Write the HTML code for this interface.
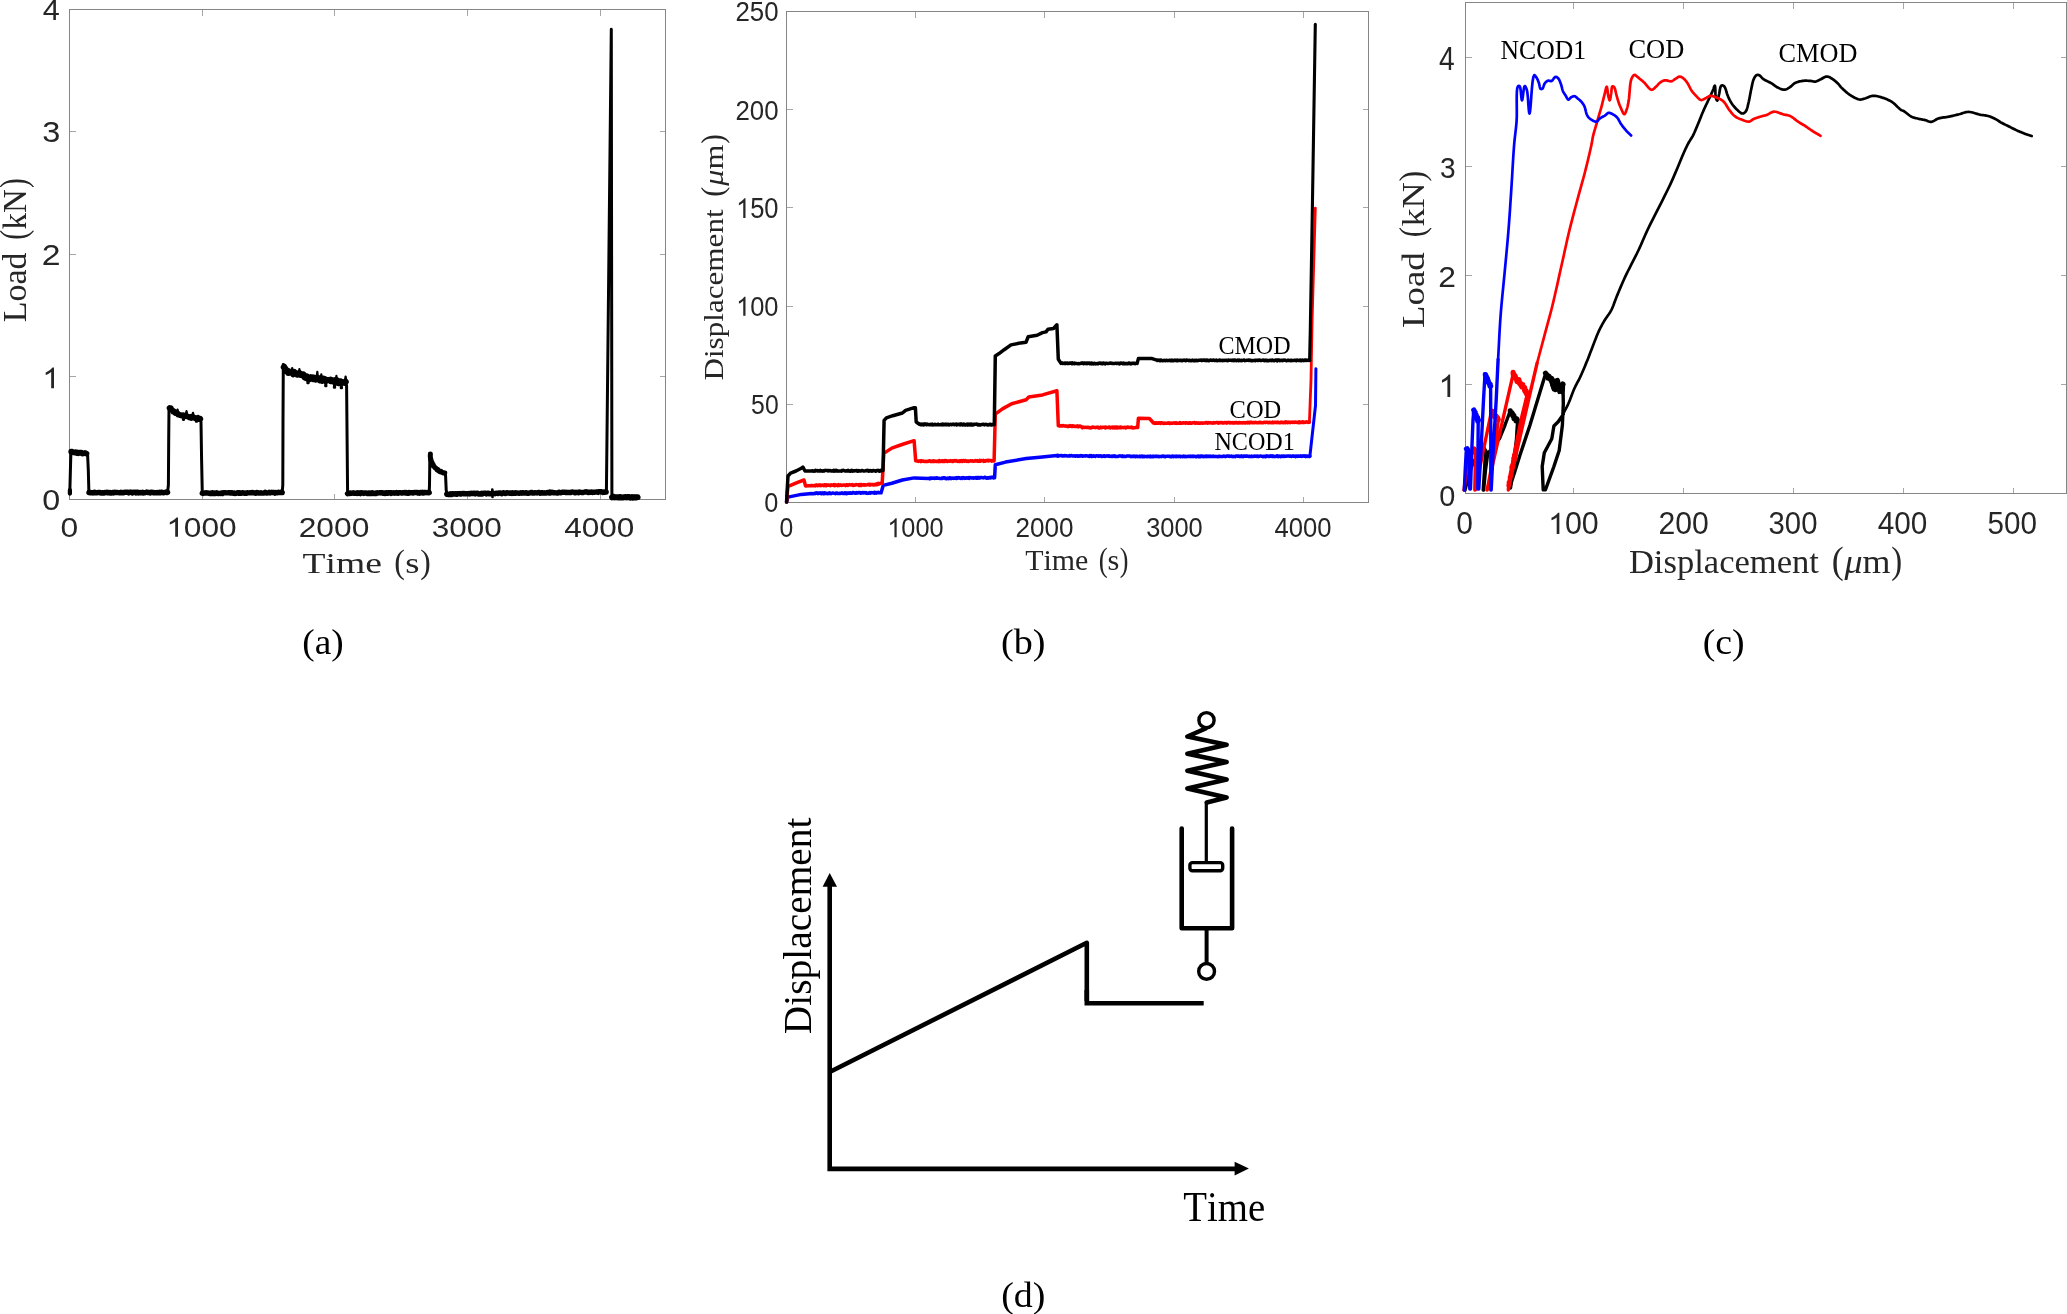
<!DOCTYPE html>
<html><head><meta charset="utf-8"><style>
html,body{margin:0;padding:0;background:#fff;overflow:hidden}
svg{display:block;will-change:transform}
text{font-kerning:none;white-space:pre}
</style></head><body>
<svg width="2067" height="1314" viewBox="0 0 2067 1314">
<rect width="2067" height="1314" fill="#fff"/>
<g stroke="#a6a6a6" stroke-width="1" fill="none" shape-rendering="crispEdges">
<path d="M202.0 499.5V493.5M202.0 9.5V15.5"/>
<path d="M334.7 499.5V493.5M334.7 9.5V15.5"/>
<path d="M467.4 499.5V493.5M467.4 9.5V15.5"/>
<path d="M600.0 499.5V493.5M600.0 9.5V15.5"/>
<path d="M69.5 376.6H75.5M665.5 376.6H659.5"/>
<path d="M69.5 254.0H75.5M665.5 254.0H659.5"/>
<path d="M69.5 131.4H75.5M665.5 131.4H659.5"/>
</g>
<rect x="69.5" y="9.5" width="596.0" height="490.0" stroke="#858585" stroke-width="1" fill="none" shape-rendering="crispEdges"/>
<g transform="translate(60.56,536.73) scale(0.015526,0.013655)" fill="#262626">
<text x="0" y="0" font-size="2048" font-family='"Liberation Sans", sans-serif'>0</text>
</g>
<g transform="translate(166.20,536.73) scale(0.015461,0.013655)" fill="#262626">
<path transform="translate(0,0) scale(1,-0.9611)" d="M763 0L583 0L583 1147Q518 1085 421 1028Q324 971 233 937L233 1111Q388 1184 506.5 1289.5Q625 1395 669 1466L763 1466Z"/>
<text x="1139" y="0" font-size="2048" font-family='"Liberation Sans", sans-serif'>000</text>
</g>
<g transform="translate(298.70,536.73) scale(0.015504,0.013655)" fill="#262626">
<text x="0" y="0" font-size="2048" font-family='"Liberation Sans", sans-serif'>2000</text>
</g>
<g transform="translate(431.70,536.73) scale(0.015393,0.013655)" fill="#262626">
<text x="0" y="0" font-size="2048" font-family='"Liberation Sans", sans-serif'>3000</text>
</g>
<g transform="translate(564.18,536.73) scale(0.015421,0.013655)" fill="#262626">
<text x="0" y="0" font-size="2048" font-family='"Liberation Sans", sans-serif'>4000</text>
</g>
<g transform="translate(42.14,509.87) scale(0.015730,0.014000)" fill="#262626">
<text x="0" y="0" font-size="2048" font-family='"Liberation Sans", sans-serif'>0</text>
</g>
<g transform="translate(42.05,388.20) scale(0.015660,0.014620)" fill="#262626">
<path transform="translate(0,0) scale(1,-0.9611)" d="M763 0L583 0L583 1147Q518 1085 421 1028Q324 971 233 937L233 1111Q388 1184 506.5 1289.5Q625 1395 669 1466L763 1466Z"/>
</g>
<g transform="translate(41.70,264.95) scale(0.016506,0.014196)" fill="#262626">
<text x="0" y="0" font-size="2048" font-family='"Liberation Sans", sans-serif'>2</text>
</g>
<g transform="translate(42.16,142.07) scale(0.015860,0.014000)" fill="#262626">
<text x="0" y="0" font-size="2048" font-family='"Liberation Sans", sans-serif'>3</text>
</g>
<g transform="translate(42.70,19.75) scale(0.014922,0.014407)" fill="#262626">
<text x="0" y="0" font-size="2048" font-family='"Liberation Sans", sans-serif'>4</text>
</g>
<text transform="translate(302.52,572.55) scale(1.2510,1.0000)" font-size="30.07" font-family='"Liberation Serif", serif' fill="#262626">Time</text>
<text transform="translate(394.30,573.02) scale(1.0618,1.1370)" font-size="30.07" font-family='"Liberation Serif", serif' fill="#262626">(</text>
<text transform="translate(405.30,572.55) scale(1.2151,1.0000)" font-size="30.07" font-family='"Liberation Serif", serif' fill="#262626">s</text>
<text transform="translate(420.18,573.02) scale(1.0488,1.1370)" font-size="30.07" font-family='"Liberation Serif", serif' fill="#262626">)</text>
<text transform="translate(25.90,322.18) rotate(-90) scale(1.0165,1.0000)" font-size="33.37" font-family='"Liberation Serif", serif' fill="#262626">Load</text>
<text transform="translate(26.49,239.80) rotate(-90) scale(0.8868,1.1270)" font-size="33.37" font-family='"Liberation Serif", serif' fill="#262626">(</text>
<text transform="translate(25.90,229.42) rotate(-90) scale(0.9827,1.0000)" font-size="33.37" font-family='"Liberation Serif", serif' fill="#262626">kN</text>
<text transform="translate(26.49,187.95) rotate(-90) scale(0.8868,1.1270)" font-size="33.37" font-family='"Liberation Serif", serif' fill="#262626">)</text>
<g stroke="#a6a6a6" stroke-width="1" fill="none" shape-rendering="crispEdges">
<path d="M915.7 502.5V496.5M915.7 11.5V17.5"/>
<path d="M1044.9 502.5V496.5M1044.9 11.5V17.5"/>
<path d="M1174.1 502.5V496.5M1174.1 11.5V17.5"/>
<path d="M1303.3 502.5V496.5M1303.3 11.5V17.5"/>
<path d="M786.5 404.2H792.5M1368.5 404.2H1362.5"/>
<path d="M786.5 306.1H792.5M1368.5 306.1H1362.5"/>
<path d="M786.5 207.9H792.5M1368.5 207.9H1362.5"/>
<path d="M786.5 109.8H792.5M1368.5 109.8H1362.5"/>
</g>
<rect x="786.5" y="11.5" width="582.0" height="491.0" stroke="#858585" stroke-width="1" fill="none" shape-rendering="crispEdges"/>
<g transform="translate(779.54,537.23) scale(0.012053,0.013517)" fill="#262626">
<text x="0" y="0" font-size="2048" font-family='"Liberation Sans", sans-serif'>0</text>
</g>
<g transform="translate(887.22,537.23) scale(0.012373,0.013517)" fill="#262626">
<path transform="translate(0,0) scale(1,-0.9611)" d="M763 0L583 0L583 1147Q518 1085 421 1028Q324 971 233 937L233 1111Q388 1184 506.5 1289.5Q625 1395 669 1466L763 1466Z"/>
<text x="1139" y="0" font-size="2048" font-family='"Liberation Sans", sans-serif'>000</text>
</g>
<g transform="translate(1015.59,537.23) scale(0.012737,0.013517)" fill="#262626">
<text x="0" y="0" font-size="2048" font-family='"Liberation Sans", sans-serif'>2000</text>
</g>
<g transform="translate(1146.13,537.23) scale(0.012415,0.013517)" fill="#262626">
<text x="0" y="0" font-size="2048" font-family='"Liberation Sans", sans-serif'>3000</text>
</g>
<g transform="translate(1274.61,537.23) scale(0.012508,0.013517)" fill="#262626">
<text x="0" y="0" font-size="2048" font-family='"Liberation Sans", sans-serif'>4000</text>
</g>
<g transform="translate(735.50,21.43) scale(0.012616,0.013517)" fill="#262626">
<text x="0" y="0" font-size="2048" font-family='"Liberation Sans", sans-serif'>250</text>
</g>
<g transform="translate(735.50,120.13) scale(0.012616,0.013724)" fill="#262626">
<text x="0" y="0" font-size="2048" font-family='"Liberation Sans", sans-serif'>200</text>
</g>
<g transform="translate(736.00,217.92) scale(0.012436,0.014000)" fill="#262626">
<path transform="translate(0,0) scale(1,-0.9611)" d="M763 0L583 0L583 1147Q518 1085 421 1028Q324 971 233 937L233 1111Q388 1184 506.5 1289.5Q625 1395 669 1466L763 1466Z"/>
<text x="1139" y="0" font-size="2048" font-family='"Liberation Sans", sans-serif'>50</text>
</g>
<g transform="translate(736.00,315.73) scale(0.012436,0.013517)" fill="#262626">
<path transform="translate(0,0) scale(1,-0.9611)" d="M763 0L583 0L583 1147Q518 1085 421 1028Q324 971 233 937L233 1111Q388 1184 506.5 1289.5Q625 1395 669 1466L763 1466Z"/>
<text x="1139" y="0" font-size="2048" font-family='"Liberation Sans", sans-serif'>00</text>
</g>
<g transform="translate(751.11,413.63) scale(0.012098,0.013655)" fill="#262626">
<text x="0" y="0" font-size="2048" font-family='"Liberation Sans", sans-serif'>50</text>
</g>
<g transform="translate(764.31,512.33) scale(0.012360,0.013517)" fill="#262626">
<text x="0" y="0" font-size="2048" font-family='"Liberation Sans", sans-serif'>0</text>
</g>
<text transform="translate(1025.16,570.10) scale(1.0254,1.0000)" font-size="29.20" font-family='"Liberation Serif", serif' fill="#262626">Time</text>
<text transform="translate(1098.72,570.53) scale(0.9201,1.1370)" font-size="29.20" font-family='"Liberation Serif", serif' fill="#262626">(</text>
<text transform="translate(1107.55,570.10) scale(1.0428,1.0000)" font-size="29.20" font-family='"Liberation Serif", serif' fill="#262626">s</text>
<text transform="translate(1119.66,570.53) scale(0.8935,1.1370)" font-size="29.20" font-family='"Liberation Serif", serif' fill="#262626">)</text>
<text transform="translate(723.00,380.50) rotate(-90) scale(1.1504,1.0000)" font-size="27.06" font-family='"Liberation Serif", serif' fill="#262626">Displacement</text>
<text transform="translate(723.45,196.73) rotate(-90) scale(1.1222,1.1370)" font-size="27.06" font-family='"Liberation Serif", serif' fill="#262626">(</text>
<text transform="translate(723.00,185.77) rotate(-90) scale(1.1887,1.0000)" font-size="27.06" font-family='"Liberation Serif", serif' fill="#262626"><tspan font-style="italic">μ</tspan><tspan>m</tspan></text>
<text transform="translate(723.45,143.72) rotate(-90) scale(1.0502,1.1370)" font-size="27.06" font-family='"Liberation Serif", serif' fill="#262626">)</text>
<text transform="translate(1218.41,353.96) scale(0.9791,1)" font-size="24.56" font-family='"Liberation Serif", serif' fill="#000">CMOD</text>
<text transform="translate(1229.60,418.16) scale(1.0029,1)" font-size="24.41" font-family='"Liberation Serif", serif' fill="#000">COD</text>
<text transform="translate(1214.40,450.15) scale(0.9606,1)" font-size="25.15" font-family='"Liberation Serif", serif' fill="#000">NCOD1</text>
<g stroke="#a6a6a6" stroke-width="1" fill="none" shape-rendering="crispEdges">
<path d="M1573.5 493.5V487.5M1573.5 2.5V8.5"/>
<path d="M1683.4 493.5V487.5M1683.4 2.5V8.5"/>
<path d="M1793.3 493.5V487.5M1793.3 2.5V8.5"/>
<path d="M1903.3 493.5V487.5M1903.3 2.5V8.5"/>
<path d="M2013.2 493.5V487.5M2013.2 2.5V8.5"/>
<path d="M1465.5 384.4H1471.5M2066.5 384.4H2060.5"/>
<path d="M1465.5 275.4H1471.5M2066.5 275.4H2060.5"/>
<path d="M1465.5 166.4H1471.5M2066.5 166.4H2060.5"/>
<path d="M1465.5 57.4H1471.5M2066.5 57.4H2060.5"/>
</g>
<rect x="1465.5" y="2.5" width="601.0" height="491.0" stroke="#858585" stroke-width="1" fill="none" shape-rendering="crispEdges"/>
<g transform="translate(1456.23,534.10) scale(0.014607,0.015241)" fill="#262626">
<text x="0" y="0" font-size="2048" font-family='"Liberation Sans", sans-serif'>0</text>
</g>
<g transform="translate(1548.05,534.10) scale(0.014820,0.015241)" fill="#262626">
<path transform="translate(0,0) scale(1,-0.9611)" d="M763 0L583 0L583 1147Q518 1085 421 1028Q324 971 233 937L233 1111Q388 1184 506.5 1289.5Q625 1395 669 1466L763 1466Z"/>
<text x="1139" y="0" font-size="2048" font-family='"Liberation Sans", sans-serif'>00</text>
</g>
<g transform="translate(1658.58,534.10) scale(0.014719,0.015241)" fill="#262626">
<text x="0" y="0" font-size="2048" font-family='"Liberation Sans", sans-serif'>200</text>
</g>
<g transform="translate(1768.58,534.10) scale(0.014299,0.015241)" fill="#262626">
<text x="0" y="0" font-size="2048" font-family='"Liberation Sans", sans-serif'>300</text>
</g>
<g transform="translate(1877.72,534.10) scale(0.014529,0.015241)" fill="#262626">
<text x="0" y="0" font-size="2048" font-family='"Liberation Sans", sans-serif'>400</text>
</g>
<g transform="translate(1987.51,534.10) scale(0.014470,0.015241)" fill="#262626">
<text x="0" y="0" font-size="2048" font-family='"Liberation Sans", sans-serif'>500</text>
</g>
<g transform="translate(1439.37,505.80) scale(0.014096,0.014759)" fill="#262626">
<text x="0" y="0" font-size="2048" font-family='"Liberation Sans", sans-serif'>0</text>
</g>
<g transform="translate(1438.40,397.00) scale(0.015472,0.015898)" fill="#262626">
<path transform="translate(0,0) scale(1,-0.9611)" d="M763 0L583 0L583 1147Q518 1085 421 1028Q324 971 233 937L233 1111Q388 1184 506.5 1289.5Q625 1395 669 1466L763 1466Z"/>
</g>
<g transform="translate(1438.20,287.40) scale(0.015541,0.014545)" fill="#262626">
<text x="0" y="0" font-size="2048" font-family='"Liberation Sans", sans-serif'>2</text>
</g>
<g transform="translate(1439.93,177.71) scale(0.013697,0.014621)" fill="#262626">
<text x="0" y="0" font-size="2048" font-family='"Liberation Sans", sans-serif'>3</text>
</g>
<g transform="translate(1439.05,69.60) scale(0.013760,0.016182)" fill="#262626">
<text x="0" y="0" font-size="2048" font-family='"Liberation Sans", sans-serif'>4</text>
</g>
<text transform="translate(1628.90,572.80) scale(1.0155,1.0000)" font-size="34.05" font-family='"Liberation Serif", serif' fill="#262626">Displacement</text>
<text transform="translate(1831.63,573.36) scale(1.0521,1.1370)" font-size="34.05" font-family='"Liberation Serif", serif' fill="#262626">(</text>
<text transform="translate(1844.54,572.80) scale(1.0563,1.0000)" font-size="34.05" font-family='"Liberation Serif", serif' fill="#262626"><tspan font-style="italic">μ</tspan><tspan>m</tspan></text>
<text transform="translate(1891.15,573.36) scale(0.9606,1.1370)" font-size="34.05" font-family='"Liberation Serif", serif' fill="#262626">)</text>
<text transform="translate(1424.00,327.96) rotate(-90) scale(1.1546,1.0000)" font-size="31.91" font-family='"Liberation Serif", serif' fill="#262626">Load</text>
<text transform="translate(1424.48,237.25) rotate(-90) scale(0.9638,1.1370)" font-size="31.91" font-family='"Liberation Serif", serif' fill="#262626">(</text>
<text transform="translate(1424.00,226.59) rotate(-90) scale(1.1391,1.0000)" font-size="31.91" font-family='"Liberation Serif", serif' fill="#262626">kN</text>
<text transform="translate(1424.48,181.53) rotate(-90) scale(1.0004,1.1370)" font-size="31.91" font-family='"Liberation Serif", serif' fill="#262626">)</text>
<text transform="translate(1500.56,58.53) scale(0.9426,1)" font-size="27.24" font-family='"Liberation Serif", serif' fill="#000">NCOD1</text>
<text transform="translate(1628.42,58.33) scale(0.9711,1)" font-size="27.24" font-family='"Liberation Serif", serif' fill="#000">COD</text>
<text transform="translate(1778.62,62.13) scale(0.9633,1)" font-size="27.24" font-family='"Liberation Serif", serif' fill="#000">CMOD</text>
<text transform="translate(302.36,654.24) scale(1.0498,1)" font-size="35.51" font-family='"Liberation Serif", serif' fill="#000">(a)</text>
<text transform="translate(1001.12,654.24) scale(1.0735,1)" font-size="35.51" font-family='"Liberation Serif", serif' fill="#000">(b)</text>
<text transform="translate(1702.74,654.24) scale(1.0636,1)" font-size="35.51" font-family='"Liberation Serif", serif' fill="#000">(c)</text>
<text transform="translate(1001.23,1306.54) scale(1.0683,1)" font-size="35.51" font-family='"Liberation Serif", serif' fill="#000">(d)</text>
<text transform="translate(811.18,1034.24) rotate(-90) scale(0.9848,1)" font-size="40.03" font-family='"Liberation Serif", serif' fill="#000">Displacement</text>
<text transform="translate(1183.20,1220.99) scale(0.9285,1)" font-size="41.82" font-family='"Liberation Serif", serif' fill="#000">Time</text>
<path d="M69.90 494.00 L69.90 489.00 L70.40 470.00 L70.90 452.00 L71.25 451.65 L72.27 451.72 L73.16 452.17 L73.94 452.46 L74.86 452.53 L75.70 452.26 L76.64 453.06 L77.39 452.52 L78.37 453.31 L79.19 452.83 L80.14 452.55 L80.92 452.86 L81.52 452.77 L82.38 453.54 L83.15 453.38 L84.10 453.25 L84.89 453.01 L85.56 453.23 L86.50 453.60 L87.60 455.00 L88.30 470.00 L88.90 492.50 L88.95 492.53 L89.67 492.68 L90.52 492.42 L91.43 492.78 L92.10 492.67 L93.00 492.94 L93.87 492.41 L94.76 492.26 L95.43 492.83 L96.17 492.59 L96.96 492.75 L97.97 492.67 L98.82 492.43 L99.59 492.68 L100.38 492.56 L101.27 493.00 L101.99 492.75 L102.69 492.78 L103.67 493.04 L104.54 492.41 L105.24 492.75 L105.96 492.57 L106.82 492.26 L107.60 492.84 L108.44 492.37 L109.33 492.93 L110.07 492.55 L111.01 492.95 L111.90 492.93 L112.57 492.52 L113.41 492.95 L114.39 492.29 L115.00 492.36 L115.84 492.59 L116.75 492.39 L117.41 492.53 L118.33 492.66 L119.30 492.77 L120.00 492.71 L120.85 492.20 L121.72 492.85 L122.52 492.86 L123.20 492.50 L123.93 492.70 L124.72 492.19 L125.57 492.27 L126.41 492.17 L127.13 492.26 L127.96 492.44 L128.75 492.90 L129.71 492.24 L130.42 492.42 L131.26 492.21 L132.20 492.99 L132.90 492.53 L133.60 492.18 L134.48 492.33 L135.42 492.23 L136.01 492.94 L136.95 492.21 L137.76 492.10 L138.56 492.95 L139.46 492.70 L140.10 492.40 L140.89 492.76 L141.79 492.76 L142.54 492.26 L143.48 492.94 L144.30 492.77 L145.10 492.71 L145.74 492.51 L146.58 492.06 L147.30 492.29 L148.17 492.65 L149.17 492.43 L149.97 492.91 L150.78 492.35 L151.39 492.22 L152.19 492.20 L153.11 492.82 L153.98 492.44 L154.73 492.72 L155.39 492.60 L156.42 492.70 L157.18 492.42 L157.83 492.70 L158.68 492.71 L159.66 492.34 L160.31 492.83 L161.21 492.13 L161.85 492.11 L162.87 492.70 L163.47 492.71 L164.50 492.56 L165.14 492.45 L165.89 491.97 L166.92 492.54 L167.60 492.40 L168.40 485.00 L168.70 440.00 L169.00 408.50 L169.61 408.11 L170.17 408.65 L170.94 408.35 L171.30 409.09 L171.89 410.12 L172.57 410.39 L173.18 411.57 L173.94 411.44 L174.70 412.57 L175.30 413.08 L176.00 413.04 L176.81 412.73 L177.57 413.36 L178.19 414.62 L179.06 414.56 L180.09 415.08 L180.76 415.14 L181.69 415.63 L182.33 415.43 L183.23 415.15 L184.28 415.59 L185.03 416.06 L186.01 415.84 L186.71 416.14 L187.51 416.62 L188.31 416.61 L189.16 417.40 L190.08 417.53 L191.02 416.80 L191.69 417.89 L192.64 416.89 L193.17 417.45 L193.99 417.30 L194.82 418.04 L196.00 418.51 L196.62 418.40 L197.72 417.75 L198.69 419.05 L199.30 419.18 L200.30 418.70 L201.00 422.00 L201.60 460.00 L202.30 493.50 L202.27 493.19 L203.23 493.49 L203.81 493.13 L204.71 493.04 L205.43 493.02 L206.37 492.75 L207.13 493.12 L207.78 493.02 L208.75 493.18 L209.40 493.60 L210.40 493.58 L211.02 492.94 L211.80 493.40 L212.67 492.81 L213.51 493.51 L214.42 492.92 L215.04 493.51 L215.96 493.31 L216.63 492.73 L217.59 493.05 L218.23 493.51 L219.18 493.38 L219.83 493.43 L220.63 493.43 L221.54 492.95 L222.37 493.48 L223.09 492.76 L223.96 492.85 L224.65 492.78 L225.44 492.81 L226.31 492.90 L227.24 492.88 L227.97 492.77 L228.73 492.63 L229.50 492.62 L230.44 493.10 L231.09 493.02 L232.10 492.69 L232.87 492.98 L233.58 493.34 L234.36 493.04 L235.24 493.46 L235.95 493.32 L236.85 493.14 L237.57 492.88 L238.28 492.68 L239.08 493.22 L239.93 492.70 L240.70 493.30 L241.72 493.14 L242.38 492.74 L243.19 492.93 L243.97 492.91 L244.81 493.37 L245.81 492.99 L246.42 493.36 L247.25 492.80 L247.98 492.82 L248.92 492.92 L249.66 492.91 L250.42 492.69 L251.25 492.80 L252.05 492.45 L252.93 492.64 L253.82 492.90 L254.68 493.00 L255.48 493.20 L256.20 492.69 L257.17 492.52 L257.91 492.96 L258.54 493.12 L259.58 492.93 L260.35 493.09 L261.00 492.82 L261.91 493.09 L262.81 493.08 L263.56 493.13 L264.40 492.94 L265.08 492.34 L265.87 492.63 L266.67 493.05 L267.61 492.85 L268.44 492.89 L269.21 492.28 L270.11 492.94 L270.84 492.74 L271.69 492.31 L272.53 492.47 L273.16 492.47 L274.15 492.41 L274.96 493.10 L275.71 492.56 L276.51 492.82 L277.40 492.75 L278.18 492.26 L278.86 492.41 L279.83 492.45 L280.60 492.18 L281.27 492.40 L282.20 492.60 L282.80 485.00 L283.00 420.00 L283.30 364.50 L283.75 367.08 L284.11 366.62 L284.31 367.89 L284.62 367.61 L285.35 368.60 L286.14 371.25 L285.99 370.26 L287.43 372.23 L287.81 370.58 L288.31 373.05 L289.03 372.40 L289.68 372.67 L291.24 371.63 L291.95 372.89 L292.85 373.61 L293.09 374.33 L294.15 371.84 L294.55 373.38 L295.79 372.94 L296.34 373.20 L297.33 374.82 L297.88 374.69 L299.47 372.93 L300.38 374.84 L301.13 373.90 L301.42 374.54 L302.76 375.46 L302.95 375.31 L303.64 374.50 L304.26 377.19 L305.19 377.82 L305.93 376.14 L306.93 376.25 L307.58 378.88 L308.81 378.77 L309.35 379.41 L310.40 378.65 L311.03 377.21 L311.88 378.47 L312.73 379.11 L313.14 377.38 L314.55 377.67 L314.97 378.38 L315.65 379.63 L317.10 378.25 L317.64 378.43 L318.38 378.77 L318.87 378.13 L319.74 380.42 L320.83 378.49 L322.03 380.94 L322.45 378.49 L323.06 378.47 L324.02 378.60 L324.77 379.23 L325.90 381.24 L326.89 379.94 L327.42 380.40 L328.22 379.96 L328.77 379.91 L330.42 379.58 L330.84 381.22 L331.99 380.11 L332.29 380.35 L333.24 381.07 L334.58 382.41 L335.34 380.07 L335.41 382.26 L337.02 381.69 L337.58 380.40 L338.24 383.31 L339.46 383.23 L340.43 381.55 L340.48 381.19 L341.68 382.70 L342.88 382.75 L343.45 382.81 L344.10 382.10 L344.56 382.72 L345.80 381.80 L346.60 386.00 L347.10 440.00 L347.60 493.80 L347.53 493.68 L348.44 493.12 L349.10 493.07 L350.04 493.46 L350.70 492.89 L351.61 493.35 L352.37 493.02 L353.23 492.82 L353.95 493.22 L354.92 493.38 L355.70 493.22 L356.33 493.01 L357.32 493.42 L357.95 492.80 L358.80 493.38 L359.58 493.00 L360.45 493.59 L361.13 492.78 L361.96 493.13 L362.85 492.92 L363.68 493.40 L364.40 492.92 L365.33 493.01 L366.09 492.93 L366.72 493.40 L367.54 493.57 L368.40 492.87 L369.13 493.07 L370.04 493.55 L370.70 493.04 L371.52 493.56 L372.30 492.72 L373.08 493.02 L374.11 493.46 L374.86 493.56 L375.72 492.95 L376.32 493.49 L377.27 492.67 L378.04 492.98 L378.77 492.93 L379.51 492.63 L380.34 492.93 L381.32 492.72 L382.13 492.79 L382.76 493.34 L383.69 492.98 L384.28 493.02 L385.17 493.41 L385.92 492.91 L386.91 492.60 L387.58 493.30 L388.47 492.60 L389.07 492.61 L390.11 492.78 L390.87 493.35 L391.56 492.78 L392.52 493.08 L393.14 493.16 L393.95 492.76 L394.67 493.18 L395.71 493.06 L396.52 492.51 L397.13 492.90 L398.12 493.33 L398.77 492.69 L399.58 492.90 L400.52 492.61 L401.28 493.10 L402.09 493.12 L402.83 492.71 L403.55 492.74 L404.48 492.47 L405.12 493.07 L405.93 492.44 L406.67 492.88 L407.55 493.25 L408.50 493.25 L409.14 492.43 L409.89 492.79 L410.86 492.74 L411.53 492.70 L412.43 492.93 L413.27 493.08 L414.04 492.41 L414.89 492.56 L415.62 492.62 L416.46 492.46 L417.13 492.49 L417.91 493.06 L418.82 492.55 L419.57 493.14 L420.40 492.45 L421.28 492.82 L422.13 492.32 L422.79 492.95 L423.69 493.03 L424.28 492.46 L425.10 492.36 L426.13 492.71 L426.92 492.51 L427.70 492.57 L428.34 492.86 L429.20 492.60 L429.50 485.00 L429.80 460.00 L430.00 453.50 L430.36 454.03 L430.33 455.56 L430.30 456.18 L430.37 456.89 L430.51 458.29 L430.75 458.73 L430.62 459.79 L431.25 460.45 L431.50 461.30 L432.06 462.54 L432.19 462.84 L432.69 464.20 L433.16 464.48 L433.38 466.03 L434.12 466.19 L434.73 467.64 L435.38 467.83 L436.05 468.30 L436.88 469.65 L437.35 469.34 L438.20 469.76 L438.66 471.02 L439.53 471.34 L440.25 471.84 L440.99 471.40 L441.78 472.16 L442.95 472.89 L443.70 472.85 L444.80 473.00 L445.60 476.00 L446.20 490.00 L446.80 493.80 L446.77 494.30 L447.53 494.07 L448.46 494.62 L449.17 494.20 L450.18 494.60 L450.84 493.81 L451.87 494.54 L452.57 493.68 L453.52 493.95 L454.33 494.13 L455.14 493.68 L455.95 493.71 L456.67 494.24 L457.61 493.61 L458.27 493.77 L459.18 493.73 L459.90 493.57 L460.86 494.15 L461.48 493.83 L462.47 493.35 L463.29 493.41 L464.03 493.79 L464.83 493.56 L465.58 493.80 L466.38 493.86 L467.19 493.65 L467.87 493.80 L468.80 493.44 L469.67 493.92 L470.39 493.37 L471.19 493.30 L471.90 493.58 L472.69 493.58 L473.60 493.21 L474.44 493.23 L475.26 493.85 L476.00 493.19 L476.80 493.47 L477.72 493.24 L478.50 494.00 L479.26 493.83 L479.92 493.97 L480.80 493.93 L481.71 493.21 L482.48 493.89 L483.08 493.36 L484.07 493.17 L484.91 493.27 L485.69 493.14 L486.40 493.83 L487.12 493.22 L488.00 493.26 L488.67 493.13 L489.51 493.80 L490.45 493.75 L491.11 493.64 L491.90 493.40 L492.84 493.24 L493.70 493.40 L494.42 493.69 L495.09 493.77 L496.04 493.22 L496.88 493.10 L497.73 493.37 L498.36 493.53 L499.18 492.99 L500.07 492.86 L500.89 493.03 L501.64 493.68 L502.42 493.38 L503.15 492.78 L503.87 492.90 L504.83 493.14 L505.60 493.55 L506.30 492.94 L507.24 492.74 L507.87 493.03 L508.69 493.02 L509.53 493.21 L510.42 492.86 L511.23 493.09 L511.90 493.50 L512.73 492.78 L513.49 493.21 L514.50 493.33 L515.17 492.85 L515.87 493.18 L516.82 492.91 L517.64 492.98 L518.52 493.23 L519.13 493.37 L519.88 493.03 L520.78 492.75 L521.49 493.23 L522.29 493.02 L523.34 492.64 L523.95 493.05 L524.84 493.07 L525.72 492.64 L526.39 492.75 L527.13 493.27 L528.13 493.10 L528.73 493.21 L529.73 492.86 L530.54 492.84 L531.20 492.51 L532.01 492.44 L532.85 493.08 L533.75 493.15 L534.56 492.62 L535.32 492.76 L536.19 492.83 L536.85 492.93 L537.85 492.54 L538.63 492.35 L539.27 492.54 L540.21 493.17 L541.01 492.60 L541.85 492.59 L542.49 493.11 L543.40 492.90 L544.21 493.15 L544.97 493.02 L545.83 493.02 L546.57 492.89 L547.41 492.51 L548.12 492.78 L548.89 493.03 L549.71 492.23 L550.51 493.03 L551.38 492.31 L552.10 492.21 L553.08 492.74 L553.89 492.82 L554.52 492.68 L555.41 492.87 L556.34 492.93 L556.94 492.90 L557.98 492.96 L558.56 492.29 L559.37 492.12 L560.37 492.81 L561.12 492.82 L561.93 492.32 L562.59 492.14 L563.57 492.23 L564.26 492.42 L564.98 492.26 L565.86 492.66 L566.69 492.30 L567.66 492.45 L568.43 492.55 L569.02 492.35 L569.93 492.67 L570.71 492.60 L571.57 492.15 L572.46 492.02 L573.26 492.09 L573.84 492.11 L574.85 492.79 L575.45 492.35 L576.39 492.61 L577.11 492.33 L577.96 492.63 L578.74 492.72 L579.56 492.05 L580.47 492.30 L581.12 492.41 L581.92 492.54 L582.89 492.53 L583.68 492.13 L584.42 492.16 L585.36 491.87 L586.16 491.81 L586.79 492.01 L587.78 492.22 L588.44 492.55 L589.21 492.16 L590.10 492.42 L590.96 492.31 L591.66 492.01 L592.41 492.47 L593.35 492.37 L594.03 492.09 L595.00 492.20 L595.63 492.09 L596.64 491.88 L597.26 491.92 L598.20 492.40 L598.86 491.77 L599.69 491.92 L600.57 491.76 L601.32 491.78 L602.30 492.25 L602.87 492.45 L603.68 491.92 L604.72 492.28 L605.46 491.95 L606.20 492.00 L606.40 492.40 L611.30 29.20 L611.90 497.00 L612.11 497.34 L612.94 496.91 L613.87 496.73 L614.73 497.49 L615.67 497.20 L616.51 497.16 L617.21 497.30 L618.14 497.44 L619.15 497.13 L619.90 497.45 L620.71 496.93 L621.65 497.58 L622.52 497.40 L623.40 497.38 L624.19 497.15 L624.94 497.33 L625.72 497.12 L626.76 497.41 L627.56 496.95 L628.34 497.16 L629.24 497.11 L630.09 497.63 L630.78 497.35 L631.80 497.09 L632.56 497.67 L633.26 497.24 L634.14 497.48 L635.21 497.22 L635.80 497.27 L636.77 497.42 L637.60 497.20" fill="none" stroke="#000" stroke-width="3.0" stroke-linejoin="round" stroke-linecap="round"/>
<path d="M69.90 490.00 L69.90 493.50" fill="none" stroke="#000" stroke-width="4.2" stroke-linejoin="round" stroke-linecap="round"/>
<path d="M71.25 451.65 L72.27 451.72 L73.16 452.17 L73.94 452.46 L74.86 452.53 L75.70 452.26 L76.64 453.06 L77.39 452.52 L78.37 453.31 L79.19 452.83 L80.14 452.55 L80.92 452.86 L81.52 452.77 L82.38 453.54 L83.15 453.38 L84.10 453.25 L84.89 453.01 L85.56 453.23 L86.50 453.60" fill="none" stroke="#000" stroke-width="5.8" stroke-linejoin="round" stroke-linecap="round"/>
<path d="M88.95 492.53 L89.67 492.68 L90.52 492.42 L91.43 492.78 L92.10 492.67 L93.00 492.94 L93.87 492.41 L94.76 492.26 L95.43 492.83 L96.17 492.59 L96.96 492.75 L97.97 492.67 L98.82 492.43 L99.59 492.68 L100.38 492.56 L101.27 493.00 L101.99 492.75 L102.69 492.78 L103.67 493.04 L104.54 492.41 L105.24 492.75 L105.96 492.57 L106.82 492.26 L107.60 492.84 L108.44 492.37 L109.33 492.93 L110.07 492.55 L111.01 492.95 L111.90 492.93 L112.57 492.52 L113.41 492.95 L114.39 492.29 L115.00 492.36 L115.84 492.59 L116.75 492.39 L117.41 492.53 L118.33 492.66 L119.30 492.77 L120.00 492.71 L120.85 492.20 L121.72 492.85 L122.52 492.86 L123.20 492.50 L123.93 492.70 L124.72 492.19 L125.57 492.27 L126.41 492.17 L127.13 492.26 L127.96 492.44 L128.75 492.90 L129.71 492.24 L130.42 492.42 L131.26 492.21 L132.20 492.99 L132.90 492.53 L133.60 492.18 L134.48 492.33 L135.42 492.23 L136.01 492.94 L136.95 492.21 L137.76 492.10 L138.56 492.95 L139.46 492.70 L140.10 492.40 L140.89 492.76 L141.79 492.76 L142.54 492.26 L143.48 492.94 L144.30 492.77 L145.10 492.71 L145.74 492.51 L146.58 492.06 L147.30 492.29 L148.17 492.65 L149.17 492.43 L149.97 492.91 L150.78 492.35 L151.39 492.22 L152.19 492.20 L153.11 492.82 L153.98 492.44 L154.73 492.72 L155.39 492.60 L156.42 492.70 L157.18 492.42 L157.83 492.70 L158.68 492.71 L159.66 492.34 L160.31 492.83 L161.21 492.13 L161.85 492.11 L162.87 492.70 L163.47 492.71 L164.50 492.56 L165.14 492.45 L165.89 491.97 L166.92 492.54 L167.60 492.40" fill="none" stroke="#000" stroke-width="5.4" stroke-linejoin="round" stroke-linecap="round"/>
<path d="M169.61 408.11 L170.17 408.65 L170.94 408.35 L171.30 409.09 L171.89 410.12 L172.57 410.39 L173.18 411.57 L173.94 411.44 L174.70 412.57 L175.30 413.08 L176.00 413.04 L176.81 412.73 L177.57 413.36 L178.19 414.62 L179.06 414.56 L180.09 415.08 L180.76 415.14 L181.69 415.63 L182.33 415.43 L183.23 415.15 L184.28 415.59 L185.03 416.06 L186.01 415.84 L186.71 416.14 L187.51 416.62 L188.31 416.61 L189.16 417.40 L190.08 417.53 L191.02 416.80 L191.69 417.89 L192.64 416.89 L193.17 417.45 L193.99 417.30 L194.82 418.04 L196.00 418.51 L196.62 418.40 L197.72 417.75 L198.69 419.05 L199.30 419.18 L200.30 418.70" fill="none" stroke="#000" stroke-width="5.8" stroke-linejoin="round" stroke-linecap="round"/>
<path d="M202.27 493.19 L203.23 493.49 L203.81 493.13 L204.71 493.04 L205.43 493.02 L206.37 492.75 L207.13 493.12 L207.78 493.02 L208.75 493.18 L209.40 493.60 L210.40 493.58 L211.02 492.94 L211.80 493.40 L212.67 492.81 L213.51 493.51 L214.42 492.92 L215.04 493.51 L215.96 493.31 L216.63 492.73 L217.59 493.05 L218.23 493.51 L219.18 493.38 L219.83 493.43 L220.63 493.43 L221.54 492.95 L222.37 493.48 L223.09 492.76 L223.96 492.85 L224.65 492.78 L225.44 492.81 L226.31 492.90 L227.24 492.88 L227.97 492.77 L228.73 492.63 L229.50 492.62 L230.44 493.10 L231.09 493.02 L232.10 492.69 L232.87 492.98 L233.58 493.34 L234.36 493.04 L235.24 493.46 L235.95 493.32 L236.85 493.14 L237.57 492.88 L238.28 492.68 L239.08 493.22 L239.93 492.70 L240.70 493.30 L241.72 493.14 L242.38 492.74 L243.19 492.93 L243.97 492.91 L244.81 493.37 L245.81 492.99 L246.42 493.36 L247.25 492.80 L247.98 492.82 L248.92 492.92 L249.66 492.91 L250.42 492.69 L251.25 492.80 L252.05 492.45 L252.93 492.64 L253.82 492.90 L254.68 493.00 L255.48 493.20 L256.20 492.69 L257.17 492.52 L257.91 492.96 L258.54 493.12 L259.58 492.93 L260.35 493.09 L261.00 492.82 L261.91 493.09 L262.81 493.08 L263.56 493.13 L264.40 492.94 L265.08 492.34 L265.87 492.63 L266.67 493.05 L267.61 492.85 L268.44 492.89 L269.21 492.28 L270.11 492.94 L270.84 492.74 L271.69 492.31 L272.53 492.47 L273.16 492.47 L274.15 492.41 L274.96 493.10 L275.71 492.56 L276.51 492.82 L277.40 492.75 L278.18 492.26 L278.86 492.41 L279.83 492.45 L280.60 492.18 L281.27 492.40 L282.20 492.60" fill="none" stroke="#000" stroke-width="5.4" stroke-linejoin="round" stroke-linecap="round"/>
<path d="M283.75 367.08 L284.11 366.62 L284.31 367.89 L284.62 367.61 L285.35 368.60 L286.14 371.25 L285.99 370.26 L287.43 372.23 L287.81 370.58 L288.31 373.05 L289.03 372.40 L289.68 372.67 L291.24 371.63 L291.95 372.89 L292.85 373.61 L293.09 374.33 L294.15 371.84 L294.55 373.38 L295.79 372.94 L296.34 373.20 L297.33 374.82 L297.88 374.69 L299.47 372.93 L300.38 374.84 L301.13 373.90 L301.42 374.54 L302.76 375.46 L302.95 375.31 L303.64 374.50 L304.26 377.19 L305.19 377.82 L305.93 376.14 L306.93 376.25 L307.58 378.88 L308.81 378.77 L309.35 379.41 L310.40 378.65 L311.03 377.21 L311.88 378.47 L312.73 379.11 L313.14 377.38 L314.55 377.67 L314.97 378.38 L315.65 379.63 L317.10 378.25 L317.64 378.43 L318.38 378.77 L318.87 378.13 L319.74 380.42 L320.83 378.49 L322.03 380.94 L322.45 378.49 L323.06 378.47 L324.02 378.60 L324.77 379.23 L325.90 381.24 L326.89 379.94 L327.42 380.40 L328.22 379.96 L328.77 379.91 L330.42 379.58 L330.84 381.22 L331.99 380.11 L332.29 380.35 L333.24 381.07 L334.58 382.41 L335.34 380.07 L335.41 382.26 L337.02 381.69 L337.58 380.40 L338.24 383.31 L339.46 383.23 L340.43 381.55 L340.48 381.19 L341.68 382.70 L342.88 382.75 L343.45 382.81 L344.10 382.10 L344.56 382.72 L345.80 381.80" fill="none" stroke="#000" stroke-width="6.0" stroke-linejoin="round" stroke-linecap="round"/>
<path d="M347.53 493.68 L348.44 493.12 L349.10 493.07 L350.04 493.46 L350.70 492.89 L351.61 493.35 L352.37 493.02 L353.23 492.82 L353.95 493.22 L354.92 493.38 L355.70 493.22 L356.33 493.01 L357.32 493.42 L357.95 492.80 L358.80 493.38 L359.58 493.00 L360.45 493.59 L361.13 492.78 L361.96 493.13 L362.85 492.92 L363.68 493.40 L364.40 492.92 L365.33 493.01 L366.09 492.93 L366.72 493.40 L367.54 493.57 L368.40 492.87 L369.13 493.07 L370.04 493.55 L370.70 493.04 L371.52 493.56 L372.30 492.72 L373.08 493.02 L374.11 493.46 L374.86 493.56 L375.72 492.95 L376.32 493.49 L377.27 492.67 L378.04 492.98 L378.77 492.93 L379.51 492.63 L380.34 492.93 L381.32 492.72 L382.13 492.79 L382.76 493.34 L383.69 492.98 L384.28 493.02 L385.17 493.41 L385.92 492.91 L386.91 492.60 L387.58 493.30 L388.47 492.60 L389.07 492.61 L390.11 492.78 L390.87 493.35 L391.56 492.78 L392.52 493.08 L393.14 493.16 L393.95 492.76 L394.67 493.18 L395.71 493.06 L396.52 492.51 L397.13 492.90 L398.12 493.33 L398.77 492.69 L399.58 492.90 L400.52 492.61 L401.28 493.10 L402.09 493.12 L402.83 492.71 L403.55 492.74 L404.48 492.47 L405.12 493.07 L405.93 492.44 L406.67 492.88 L407.55 493.25 L408.50 493.25 L409.14 492.43 L409.89 492.79 L410.86 492.74 L411.53 492.70 L412.43 492.93 L413.27 493.08 L414.04 492.41 L414.89 492.56 L415.62 492.62 L416.46 492.46 L417.13 492.49 L417.91 493.06 L418.82 492.55 L419.57 493.14 L420.40 492.45 L421.28 492.82 L422.13 492.32 L422.79 492.95 L423.69 493.03 L424.28 492.46 L425.10 492.36 L426.13 492.71 L426.92 492.51 L427.70 492.57 L428.34 492.86 L429.20 492.60" fill="none" stroke="#000" stroke-width="5.4" stroke-linejoin="round" stroke-linecap="round"/>
<path d="M430.36 454.03 L430.33 455.56 L430.30 456.18 L430.37 456.89 L430.51 458.29 L430.75 458.73 L430.62 459.79 L431.25 460.45 L431.50 461.30 L432.06 462.54 L432.19 462.84 L432.69 464.20 L433.16 464.48 L433.38 466.03 L434.12 466.19 L434.73 467.64 L435.38 467.83 L436.05 468.30 L436.88 469.65 L437.35 469.34 L438.20 469.76 L438.66 471.02 L439.53 471.34 L440.25 471.84 L440.99 471.40 L441.78 472.16 L442.95 472.89 L443.70 472.85 L444.80 473.00" fill="none" stroke="#000" stroke-width="5.0" stroke-linejoin="round" stroke-linecap="round"/>
<path d="M446.77 494.30 L447.53 494.07 L448.46 494.62 L449.17 494.20 L450.18 494.60 L450.84 493.81 L451.87 494.54 L452.57 493.68 L453.52 493.95 L454.33 494.13 L455.14 493.68 L455.95 493.71 L456.67 494.24 L457.61 493.61 L458.27 493.77 L459.18 493.73 L459.90 493.57 L460.86 494.15 L461.48 493.83 L462.47 493.35 L463.29 493.41 L464.03 493.79 L464.83 493.56 L465.58 493.80 L466.38 493.86 L467.19 493.65 L467.87 493.80 L468.80 493.44 L469.67 493.92 L470.39 493.37 L471.19 493.30 L471.90 493.58 L472.69 493.58 L473.60 493.21 L474.44 493.23 L475.26 493.85 L476.00 493.19 L476.80 493.47 L477.72 493.24 L478.50 494.00 L479.26 493.83 L479.92 493.97 L480.80 493.93 L481.71 493.21 L482.48 493.89 L483.08 493.36 L484.07 493.17 L484.91 493.27 L485.69 493.14 L486.40 493.83 L487.12 493.22 L488.00 493.26 L488.67 493.13 L489.51 493.80 L490.45 493.75 L491.11 493.64 L491.90 493.40 L492.84 493.24 L493.70 493.40 L494.42 493.69 L495.09 493.77 L496.04 493.22 L496.88 493.10 L497.73 493.37 L498.36 493.53 L499.18 492.99 L500.07 492.86 L500.89 493.03 L501.64 493.68 L502.42 493.38 L503.15 492.78 L503.87 492.90 L504.83 493.14 L505.60 493.55 L506.30 492.94 L507.24 492.74 L507.87 493.03 L508.69 493.02 L509.53 493.21 L510.42 492.86 L511.23 493.09 L511.90 493.50 L512.73 492.78 L513.49 493.21 L514.50 493.33 L515.17 492.85 L515.87 493.18 L516.82 492.91 L517.64 492.98 L518.52 493.23 L519.13 493.37 L519.88 493.03 L520.78 492.75 L521.49 493.23 L522.29 493.02 L523.34 492.64 L523.95 493.05 L524.84 493.07 L525.72 492.64 L526.39 492.75 L527.13 493.27 L528.13 493.10 L528.73 493.21 L529.73 492.86 L530.54 492.84 L531.20 492.51 L532.01 492.44 L532.85 493.08 L533.75 493.15 L534.56 492.62 L535.32 492.76 L536.19 492.83 L536.85 492.93 L537.85 492.54 L538.63 492.35 L539.27 492.54 L540.21 493.17 L541.01 492.60 L541.85 492.59 L542.49 493.11 L543.40 492.90 L544.21 493.15 L544.97 493.02 L545.83 493.02 L546.57 492.89 L547.41 492.51 L548.12 492.78 L548.89 493.03 L549.71 492.23 L550.51 493.03 L551.38 492.31 L552.10 492.21 L553.08 492.74 L553.89 492.82 L554.52 492.68 L555.41 492.87 L556.34 492.93 L556.94 492.90 L557.98 492.96 L558.56 492.29 L559.37 492.12 L560.37 492.81 L561.12 492.82 L561.93 492.32 L562.59 492.14 L563.57 492.23 L564.26 492.42 L564.98 492.26 L565.86 492.66 L566.69 492.30 L567.66 492.45 L568.43 492.55 L569.02 492.35 L569.93 492.67 L570.71 492.60 L571.57 492.15 L572.46 492.02 L573.26 492.09 L573.84 492.11 L574.85 492.79 L575.45 492.35 L576.39 492.61 L577.11 492.33 L577.96 492.63 L578.74 492.72 L579.56 492.05 L580.47 492.30 L581.12 492.41 L581.92 492.54 L582.89 492.53 L583.68 492.13 L584.42 492.16 L585.36 491.87 L586.16 491.81 L586.79 492.01 L587.78 492.22 L588.44 492.55 L589.21 492.16 L590.10 492.42 L590.96 492.31 L591.66 492.01 L592.41 492.47 L593.35 492.37 L594.03 492.09 L595.00 492.20 L595.63 492.09 L596.64 491.88 L597.26 491.92 L598.20 492.40 L598.86 491.77 L599.69 491.92 L600.57 491.76 L601.32 491.78 L602.30 492.25 L602.87 492.45 L603.68 491.92 L604.72 492.28 L605.46 491.95 L606.20 492.00" fill="none" stroke="#000" stroke-width="5.4" stroke-linejoin="round" stroke-linecap="round"/>
<path d="M612.11 497.34 L612.94 496.91 L613.87 496.73 L614.73 497.49 L615.67 497.20 L616.51 497.16 L617.21 497.30 L618.14 497.44 L619.15 497.13 L619.90 497.45 L620.71 496.93 L621.65 497.58 L622.52 497.40 L623.40 497.38 L624.19 497.15 L624.94 497.33 L625.72 497.12 L626.76 497.41 L627.56 496.95 L628.34 497.16 L629.24 497.11 L630.09 497.63 L630.78 497.35 L631.80 497.09 L632.56 497.67 L633.26 497.24 L634.14 497.48 L635.21 497.22 L635.80 497.27 L636.77 497.42 L637.60 497.20" fill="none" stroke="#000" stroke-width="6.0" stroke-linejoin="round" stroke-linecap="round"/>
<path d="M492.30 489.50 L492.50 497.00" fill="none" stroke="#000" stroke-width="2.6" stroke-linejoin="round" stroke-linecap="round"/>
<path d="M291.60 372.00 L292.20 368.00 L292.80 372.00" fill="none" stroke="#000" stroke-width="2.2" stroke-linejoin="round" stroke-linecap="round"/>
<path d="M298.80 373.00 L299.40 369.20 L300.00 373.00" fill="none" stroke="#000" stroke-width="2.2" stroke-linejoin="round" stroke-linecap="round"/>
<path d="M316.70 377.00 L317.30 371.80 L317.90 377.00" fill="none" stroke="#000" stroke-width="2.2" stroke-linejoin="round" stroke-linecap="round"/>
<path d="M320.70 378.00 L321.30 374.40 L321.90 378.00" fill="none" stroke="#000" stroke-width="2.2" stroke-linejoin="round" stroke-linecap="round"/>
<path d="M335.80 380.00 L336.40 375.80 L337.00 380.00" fill="none" stroke="#000" stroke-width="2.2" stroke-linejoin="round" stroke-linecap="round"/>
<path d="M345.00 380.00 L345.60 376.50 L346.20 380.00" fill="none" stroke="#000" stroke-width="2.2" stroke-linejoin="round" stroke-linecap="round"/>
<path d="M307.40 383.20 L308.00 379.00 L308.60 383.20" fill="none" stroke="#000" stroke-width="2.2" stroke-linejoin="round" stroke-linecap="round"/>
<path d="M325.20 386.20 L325.80 381.00 L326.40 386.20" fill="none" stroke="#000" stroke-width="2.2" stroke-linejoin="round" stroke-linecap="round"/>
<path d="M333.90 387.60 L334.50 382.00 L335.10 387.60" fill="none" stroke="#000" stroke-width="2.2" stroke-linejoin="round" stroke-linecap="round"/>
<path d="M340.80 388.20 L341.40 383.00 L342.00 388.20" fill="none" stroke="#000" stroke-width="2.2" stroke-linejoin="round" stroke-linecap="round"/>
<path d="M176.90 412.00 L177.50 409.50 L178.10 412.00" fill="none" stroke="#000" stroke-width="2.2" stroke-linejoin="round" stroke-linecap="round"/>
<path d="M185.90 414.00 L186.50 411.20 L187.10 414.00" fill="none" stroke="#000" stroke-width="2.2" stroke-linejoin="round" stroke-linecap="round"/>
<path d="M192.40 415.50 L193.00 412.80 L193.60 415.50" fill="none" stroke="#000" stroke-width="2.2" stroke-linejoin="round" stroke-linecap="round"/>
<path d="M182.90 419.80 L183.50 417.50 L184.10 419.80" fill="none" stroke="#000" stroke-width="2.2" stroke-linejoin="round" stroke-linecap="round"/>
<path d="M195.90 421.60 L196.50 419.50 L197.10 421.60" fill="none" stroke="#000" stroke-width="2.2" stroke-linejoin="round" stroke-linecap="round"/>
<path d="M786.60 502.00 L787.40 498.50 L788.00 497.10 L801.30 494.40 L811.90 493.40 L811.78 493.69 L812.62 493.81 L812.95 493.74 L813.72 493.71 L814.31 493.50 L814.94 493.67 L815.38 492.92 L816.13 493.15 L816.68 492.87 L817.39 492.88 L818.02 493.66 L818.51 492.96 L819.17 493.04 L819.70 492.94 L820.47 493.37 L820.88 492.92 L821.60 493.67 L822.23 492.91 L822.69 493.11 L823.41 492.95 L823.97 493.77 L824.62 492.80 L825.01 492.90 L825.80 493.38 L826.35 493.23 L826.92 493.38 L827.59 493.68 L828.22 493.56 L828.87 493.59 L829.42 492.78 L830.01 493.59 L830.53 493.62 L831.06 493.68 L831.74 493.43 L832.28 493.02 L832.92 493.04 L833.44 493.16 L834.31 493.36 L834.90 493.46 L835.47 493.69 L836.05 492.97 L836.50 493.10 L837.03 492.91 L837.89 493.60 L838.33 493.44 L839.06 493.56 L839.67 493.19 L840.06 493.48 L840.73 493.28 L841.35 493.18 L842.13 492.80 L842.60 493.28 L843.20 493.57 L843.76 493.54 L844.45 493.59 L844.87 492.83 L845.53 493.51 L846.05 492.86 L846.87 493.59 L847.31 493.03 L848.06 493.28 L848.68 493.33 L849.13 492.83 L849.67 493.26 L850.32 492.83 L851.15 493.20 L851.64 493.21 L852.25 493.25 L852.76 492.61 L853.29 492.55 L853.98 492.68 L854.51 493.02 L855.37 493.21 L855.76 493.29 L856.33 492.61 L856.97 492.92 L857.69 492.95 L858.30 492.59 L858.97 492.84 L859.54 492.52 L860.14 492.71 L860.75 493.28 L861.29 492.75 L861.70 492.66 L862.57 492.62 L863.10 493.04 L863.70 492.63 L864.14 492.54 L865.00 492.82 L865.50 493.01 L865.97 492.50 L866.51 493.28 L867.15 493.38 L867.82 493.14 L868.35 493.20 L868.99 492.77 L869.67 492.51 L870.19 493.19 L870.81 492.77 L871.55 492.61 L871.98 492.60 L872.64 492.74 L873.32 492.84 L873.99 492.41 L874.53 493.19 L875.00 492.38 L875.67 492.46 L876.27 493.05 L876.77 492.45 L877.48 492.51 L878.01 492.77 L878.58 492.39 L879.25 492.78 L880.03 492.87 L880.37 492.53 L881.10 492.80 L883.20 485.40 L891.80 483.20 L902.40 480.00 L914.10 477.90 L929.00 478.50 L929.07 478.46 L929.71 478.86 L930.31 478.00 L930.94 478.40 L931.33 478.04 L932.12 478.08 L932.49 478.12 L933.34 478.31 L933.88 477.92 L934.40 478.15 L934.93 478.49 L935.58 477.94 L936.37 478.29 L936.73 477.82 L937.47 478.31 L937.88 478.26 L938.70 478.32 L939.15 478.27 L939.86 478.42 L940.33 478.56 L941.17 478.49 L941.75 478.11 L942.36 477.92 L942.76 478.33 L943.56 477.81 L943.96 477.75 L944.63 477.85 L945.16 478.45 L945.88 478.63 L946.42 478.37 L946.91 478.63 L947.58 478.15 L948.26 478.61 L948.86 478.65 L949.50 477.87 L950.16 477.85 L950.82 478.09 L951.19 478.59 L951.82 478.03 L952.42 478.28 L952.93 477.98 L953.57 478.43 L954.13 478.20 L954.81 478.04 L955.50 478.29 L955.97 477.81 L956.57 478.52 L957.18 477.69 L957.89 478.13 L958.61 477.60 L959.01 477.70 L959.72 477.98 L960.27 478.41 L960.95 478.37 L961.64 477.77 L962.23 477.90 L962.57 478.40 L963.19 477.50 L963.84 477.76 L964.65 478.34 L965.09 477.99 L965.82 478.26 L966.36 477.96 L966.80 477.68 L967.56 478.02 L968.21 478.32 L968.86 477.61 L969.20 478.31 L969.95 477.58 L970.58 477.65 L971.05 477.75 L971.74 478.06 L972.20 478.11 L972.97 477.84 L973.59 478.16 L973.99 477.82 L974.79 478.05 L975.39 477.52 L976.08 478.11 L976.46 477.75 L977.28 477.52 L977.72 478.27 L978.47 477.53 L979.02 477.65 L979.60 478.05 L980.04 477.50 L980.67 477.53 L981.22 477.40 L981.93 477.67 L982.44 477.83 L983.30 477.82 L983.72 477.94 L984.35 477.40 L984.97 477.24 L985.63 477.37 L986.14 478.17 L986.86 478.03 L987.42 477.82 L988.04 478.15 L988.49 477.94 L989.12 477.42 L989.88 477.76 L990.49 478.03 L991.02 477.34 L991.45 477.67 L992.26 477.40 L992.67 477.13 L993.30 477.81 L993.85 477.34 L994.60 477.60 L995.30 464.80 L1005.50 462.10 L1026.10 458.60 L1039.80 457.30 L1056.90 455.50 L1056.84 455.97 L1057.62 455.42 L1058.01 456.16 L1058.81 455.53 L1059.26 455.83 L1059.86 455.75 L1060.50 455.63 L1061.00 455.49 L1061.62 455.50 L1062.34 455.99 L1062.85 456.07 L1063.56 455.72 L1064.11 455.60 L1064.81 455.90 L1065.20 455.58 L1065.96 455.77 L1066.56 455.65 L1067.18 456.11 L1067.61 455.94 L1068.24 456.04 L1068.99 456.11 L1069.45 455.56 L1070.15 455.94 L1070.63 455.64 L1071.34 455.58 L1071.95 455.69 L1072.46 455.84 L1073.13 456.08 L1073.61 456.09 L1074.25 455.74 L1074.95 456.07 L1075.55 456.24 L1076.05 455.77 L1076.76 455.74 L1077.24 455.71 L1077.99 456.20 L1078.58 456.31 L1079.19 455.79 L1079.68 456.12 L1080.22 456.04 L1080.83 455.59 L1081.53 455.68 L1082.23 456.26 L1082.72 455.72 L1083.24 455.98 L1083.93 455.86 L1084.58 456.00 L1085.20 455.67 L1085.63 455.90 L1086.33 455.79 L1086.97 455.77 L1087.49 455.98 L1088.18 456.22 L1088.70 455.96 L1089.44 456.36 L1089.96 455.70 L1090.53 456.13 L1091.08 455.65 L1091.85 456.35 L1092.25 456.00 L1092.97 455.87 L1093.44 456.24 L1094.20 455.99 L1094.64 455.96 L1095.24 456.42 L1095.83 455.88 L1096.61 455.76 L1097.05 455.72 L1097.66 456.09 L1098.42 455.80 L1098.87 456.28 L1099.53 455.95 L1100.06 455.87 L1100.86 455.78 L1101.29 456.28 L1102.04 456.41 L1102.54 456.46 L1103.17 455.93 L1103.74 456.27 L1104.41 455.81 L1104.88 456.48 L1105.46 456.36 L1106.11 455.92 L1106.69 456.10 L1107.47 455.84 L1108.04 455.99 L1108.48 456.33 L1109.12 455.89 L1109.74 456.40 L1110.44 456.20 L1110.84 456.36 L1111.58 456.47 L1112.27 456.02 L1112.84 456.42 L1113.30 456.06 L1113.93 456.05 L1114.53 455.86 L1115.10 456.50 L1115.74 456.29 L1116.46 456.39 L1116.90 456.52 L1117.64 456.58 L1118.22 456.40 L1118.84 456.00 L1119.40 456.11 L1120.05 455.91 L1120.58 456.08 L1121.25 456.09 L1121.85 456.50 L1122.46 455.93 L1123.08 456.42 L1123.61 456.35 L1124.06 456.53 L1124.78 456.20 L1125.33 456.47 L1126.04 456.54 L1126.51 456.12 L1127.12 455.93 L1127.73 455.88 L1128.45 456.04 L1128.87 455.92 L1129.64 456.03 L1130.17 456.19 L1130.85 456.64 L1131.33 456.39 L1132.08 456.26 L1132.68 456.47 L1133.14 456.59 L1133.80 455.98 L1134.40 456.56 L1134.99 456.29 L1135.56 456.61 L1136.22 456.08 L1136.75 456.21 L1137.50 456.48 L1137.90 456.65 L1138.48 456.40 L1139.17 456.50 L1139.77 456.01 L1140.40 456.59 L1141.06 456.23 L1141.52 456.54 L1142.26 456.12 L1142.88 456.75 L1143.38 456.26 L1144.04 456.71 L1144.52 456.21 L1145.15 456.55 L1145.72 456.41 L1146.40 456.51 L1146.91 456.75 L1147.72 456.43 L1148.27 456.14 L1148.90 456.43 L1149.46 456.69 L1149.97 456.74 L1150.53 456.02 L1151.20 456.72 L1151.90 456.76 L1152.41 456.74 L1153.02 456.11 L1153.64 456.64 L1154.19 456.48 L1154.75 456.21 L1155.39 456.40 L1156.00 456.07 L1156.49 456.26 L1157.27 456.59 L1157.75 456.19 L1158.42 456.13 L1159.04 456.71 L1159.55 456.46 L1160.27 456.59 L1160.87 456.55 L1161.37 456.66 L1162.12 456.03 L1162.73 456.34 L1163.13 456.04 L1163.90 456.52 L1164.34 456.35 L1165.06 456.78 L1165.59 456.59 L1166.17 456.14 L1166.75 456.31 L1167.46 456.22 L1167.95 456.15 L1168.54 456.13 L1169.19 456.38 L1169.76 456.36 L1170.42 456.75 L1171.04 456.73 L1171.63 456.13 L1172.26 456.09 L1172.76 456.03 L1173.49 456.74 L1174.02 456.25 L1174.63 456.25 L1175.29 456.28 L1175.77 456.66 L1176.47 455.97 L1177.13 456.55 L1177.62 456.47 L1178.35 456.29 L1178.84 456.20 L1179.47 456.49 L1180.11 456.72 L1180.57 456.25 L1181.34 456.59 L1181.88 456.50 L1182.42 456.72 L1183.07 456.28 L1183.59 456.05 L1184.36 456.60 L1184.75 456.21 L1185.46 456.35 L1186.03 456.67 L1186.63 456.38 L1187.37 456.46 L1187.87 456.22 L1188.45 456.44 L1189.14 456.16 L1189.64 456.26 L1190.24 456.68 L1190.89 456.17 L1191.44 456.61 L1192.00 456.50 L1192.57 456.10 L1193.18 456.59 L1193.80 456.13 L1194.38 456.16 L1195.14 456.52 L1195.78 456.70 L1196.30 456.68 L1196.79 456.68 L1197.47 456.09 L1198.15 456.63 L1198.66 456.01 L1199.38 456.54 L1199.92 456.72 L1200.38 455.98 L1201.01 455.95 L1201.75 456.44 L1202.21 456.06 L1202.82 456.42 L1203.54 456.71 L1204.07 456.72 L1204.69 456.24 L1205.24 456.12 L1206.02 456.73 L1206.56 456.07 L1207.03 456.05 L1207.67 456.52 L1208.20 456.35 L1208.95 455.95 L1209.50 456.56 L1210.13 456.29 L1210.81 456.40 L1211.28 456.24 L1212.02 456.61 L1212.62 456.37 L1213.03 456.06 L1213.69 456.47 L1214.20 456.56 L1214.99 456.33 L1215.40 456.56 L1216.10 456.45 L1216.74 456.50 L1217.30 456.68 L1218.04 456.66 L1218.56 456.17 L1219.10 456.13 L1219.83 456.55 L1220.40 456.57 L1221.05 456.46 L1221.49 456.52 L1222.08 456.40 L1222.65 456.60 L1223.33 456.13 L1224.04 455.97 L1224.64 456.51 L1225.06 456.51 L1225.76 456.63 L1226.36 456.25 L1227.05 455.97 L1227.61 455.99 L1228.09 455.99 L1228.84 456.25 L1229.40 456.11 L1230.01 456.42 L1230.45 456.29 L1231.21 456.07 L1231.79 456.12 L1232.32 456.63 L1233.06 456.69 L1233.54 456.35 L1234.23 456.50 L1234.75 456.58 L1235.34 456.65 L1235.95 455.99 L1236.62 456.01 L1237.21 455.93 L1237.88 456.32 L1238.42 455.99 L1239.00 456.19 L1239.51 456.54 L1240.06 456.27 L1240.67 456.57 L1241.47 455.91 L1241.96 456.26 L1242.63 456.47 L1243.14 456.63 L1243.70 455.99 L1244.45 455.98 L1244.90 456.28 L1245.54 456.01 L1246.28 456.26 L1246.85 456.08 L1247.48 456.06 L1248.08 456.37 L1248.70 456.49 L1249.22 456.30 L1249.87 456.23 L1250.29 456.61 L1251.06 456.42 L1251.65 456.06 L1252.18 456.53 L1252.90 456.61 L1253.31 456.42 L1254.01 456.19 L1254.52 455.98 L1255.19 456.26 L1255.74 456.16 L1256.41 456.48 L1257.02 456.00 L1257.69 456.16 L1258.31 456.65 L1258.72 456.33 L1259.52 456.17 L1260.02 456.11 L1260.49 456.03 L1261.12 456.09 L1261.84 456.31 L1262.52 456.41 L1262.98 456.62 L1263.65 456.29 L1264.30 456.39 L1264.78 456.34 L1265.37 456.63 L1265.96 456.63 L1266.51 455.86 L1267.23 456.02 L1267.82 455.95 L1268.50 456.39 L1269.07 456.59 L1269.74 456.39 L1270.28 455.85 L1270.72 456.19 L1271.54 456.10 L1272.05 455.85 L1272.61 456.57 L1273.25 456.51 L1273.72 456.01 L1274.36 456.51 L1274.94 456.59 L1275.58 456.55 L1276.24 456.10 L1276.95 456.17 L1277.49 455.89 L1278.12 456.62 L1278.55 456.44 L1279.19 455.96 L1279.81 456.37 L1280.55 456.63 L1281.16 456.33 L1281.68 455.96 L1282.30 456.28 L1282.82 456.55 L1283.39 455.95 L1283.97 455.95 L1284.67 456.47 L1285.17 456.23 L1285.87 456.28 L1286.44 456.26 L1286.94 455.88 L1287.64 456.02 L1288.32 456.02 L1288.94 456.02 L1289.36 456.21 L1290.04 456.09 L1290.73 456.00 L1291.31 456.49 L1291.85 456.23 L1292.57 456.31 L1292.99 455.88 L1293.57 456.09 L1294.17 456.34 L1294.85 456.07 L1295.48 456.57 L1296.01 455.94 L1296.63 456.08 L1297.37 456.38 L1297.86 455.95 L1298.37 455.91 L1299.16 456.33 L1299.60 456.31 L1300.18 456.22 L1300.84 455.89 L1301.54 456.38 L1302.09 455.94 L1302.73 456.16 L1303.33 455.88 L1303.99 455.81 L1304.42 456.13 L1305.02 455.88 L1305.74 456.60 L1306.25 456.02 L1306.94 455.98 L1307.47 456.35 L1308.08 455.93 L1308.59 456.24 L1309.42 456.54 L1309.90 456.20" fill="none" stroke="#0000ff" stroke-width="3.5" stroke-linejoin="round" stroke-linecap="round"/>
<path d="M1309.90 456.20 L1315.50 405.50 L1315.90 368.70" fill="none" stroke="#0000ff" stroke-width="3.0" stroke-linejoin="round" stroke-linecap="round"/>
<path d="M786.60 502.00 L787.40 492.00 L788.00 486.40 L790.60 485.40 L797.00 482.60 L804.00 480.00 L805.50 485.90 L811.90 485.40 L812.01 485.46 L812.63 485.76 L813.00 485.63 L813.65 485.65 L814.35 485.70 L814.79 485.24 L815.57 485.81 L816.17 484.90 L816.73 484.95 L817.31 485.65 L817.78 485.77 L818.55 485.09 L819.01 485.28 L819.80 485.41 L820.18 484.84 L820.78 485.61 L821.41 485.36 L822.04 485.49 L822.66 484.94 L823.41 485.33 L823.96 485.59 L824.63 484.79 L825.05 484.92 L825.70 485.64 L826.39 484.80 L826.80 485.57 L827.55 485.14 L828.09 484.90 L828.80 485.13 L829.41 485.34 L829.77 485.05 L830.41 485.61 L831.13 484.76 L831.60 485.07 L832.29 485.28 L832.87 485.05 L833.35 485.27 L834.05 484.70 L834.69 485.67 L835.16 484.82 L835.95 484.94 L836.43 485.16 L837.03 485.22 L837.71 485.61 L838.45 484.68 L838.92 485.41 L839.61 485.41 L840.14 485.26 L840.66 484.90 L841.39 485.49 L842.03 485.29 L842.44 485.37 L843.17 485.11 L843.74 484.94 L844.32 484.99 L844.77 484.92 L845.45 485.56 L846.09 484.94 L846.62 484.80 L847.25 484.69 L847.75 485.42 L848.49 484.99 L849.12 484.84 L849.60 484.60 L850.24 484.84 L850.97 485.07 L851.63 484.86 L852.23 485.09 L852.57 484.68 L853.32 485.49 L853.86 485.27 L854.48 485.35 L854.97 484.97 L855.82 484.75 L856.23 484.49 L856.80 484.73 L857.56 484.68 L858.07 484.65 L858.73 485.31 L859.34 484.64 L859.97 485.40 L860.53 484.51 L861.19 485.30 L861.65 484.55 L862.21 484.95 L863.01 485.04 L863.63 484.61 L864.05 485.14 L864.74 484.79 L865.35 484.72 L865.77 484.79 L866.36 485.00 L867.05 484.86 L867.73 484.62 L868.29 484.37 L869.03 484.91 L869.65 484.40 L870.13 485.06 L870.65 484.42 L871.20 484.47 L871.98 484.41 L872.59 484.73 L873.11 484.89 L873.72 484.96 L874.34 484.52 L874.99 484.33 L875.58 484.72 L876.21 484.15 L876.82 484.71 L877.33 483.89 L877.96 484.44 L878.45 483.39 L879.16 483.93 L879.85 483.52 L880.53 483.27 L881.06 483.02 L881.45 482.95 L882.20 483.20 L883.80 453.40 L891.80 448.10 L902.00 444.50 L914.10 440.70 L915.70 460.90 L918.40 461.40 L918.27 461.20 L919.02 460.88 L919.73 461.06 L920.10 460.87 L920.87 461.61 L921.30 460.71 L922.09 460.92 L922.75 461.18 L923.25 461.02 L923.90 461.13 L924.36 461.57 L924.89 461.40 L925.48 461.31 L926.18 461.52 L926.68 461.22 L927.38 461.57 L928.15 461.28 L928.53 460.90 L929.14 461.08 L929.73 460.84 L930.49 461.28 L930.96 461.63 L931.53 461.20 L932.12 461.49 L932.93 460.89 L933.50 461.44 L933.96 460.95 L934.62 461.51 L935.12 461.29 L935.85 461.06 L936.45 461.49 L936.94 461.49 L937.58 461.38 L938.34 460.78 L938.94 461.59 L939.37 460.61 L939.91 461.56 L940.48 461.49 L941.13 461.32 L941.71 460.74 L942.49 460.66 L942.98 461.49 L943.70 461.45 L944.38 460.60 L944.76 461.35 L945.49 460.60 L946.04 460.79 L946.62 460.66 L947.09 461.54 L947.78 461.42 L948.33 461.03 L948.93 460.97 L949.54 461.22 L950.14 461.27 L950.84 460.64 L951.40 461.02 L952.17 460.87 L952.56 461.49 L953.36 461.25 L953.78 460.69 L954.38 460.58 L954.91 461.02 L955.62 461.06 L956.21 460.51 L956.91 461.15 L957.46 461.04 L958.11 461.47 L958.77 461.21 L959.22 460.80 L959.83 461.45 L960.42 460.86 L961.03 460.62 L961.81 460.48 L962.29 461.39 L962.79 461.08 L963.42 460.70 L963.97 460.57 L964.76 461.24 L965.38 460.50 L965.92 460.77 L966.51 460.99 L967.01 461.41 L967.52 461.19 L968.37 460.95 L968.89 461.43 L969.39 461.06 L970.14 460.81 L970.73 460.82 L971.28 461.03 L971.92 460.74 L972.51 460.96 L972.99 461.02 L973.60 461.32 L974.27 461.13 L974.88 460.88 L975.39 460.54 L976.20 460.92 L976.68 460.92 L977.37 460.63 L977.78 461.21 L978.47 461.02 L979.18 461.27 L979.79 460.42 L980.25 461.21 L980.98 460.49 L981.38 460.62 L981.96 460.72 L982.78 460.88 L983.27 460.45 L983.86 461.35 L984.55 460.80 L985.08 461.15 L985.77 460.49 L986.34 460.71 L986.90 460.58 L987.45 460.68 L988.06 460.35 L988.60 460.90 L989.16 460.50 L989.96 460.60 L990.44 460.56 L991.20 460.41 L991.74 461.17 L992.21 460.73 L992.99 460.92 L993.46 460.35 L994.10 460.80 L995.30 414.10 L1002.80 408.60 L1011.70 403.80 L1026.10 399.70 L1028.80 397.00 L1042.50 394.90 L1056.90 390.80 L1058.30 425.80 L1058.28 425.67 L1058.97 425.61 L1059.49 425.98 L1060.23 425.70 L1060.71 425.94 L1061.48 425.57 L1062.11 426.11 L1062.54 426.08 L1063.14 425.50 L1063.87 425.83 L1064.42 425.96 L1065.14 426.24 L1065.49 426.09 L1066.23 425.97 L1066.95 425.94 L1067.45 426.43 L1068.05 426.05 L1068.69 426.40 L1069.35 426.33 L1069.88 425.65 L1070.57 426.18 L1071.21 426.41 L1071.62 425.88 L1072.22 426.49 L1072.84 425.78 L1073.65 426.27 L1074.05 426.40 L1074.86 426.22 L1075.27 426.45 L1075.99 426.35 L1076.77 426.60 L1077.35 425.95 L1077.80 426.34 L1078.31 426.82 L1079.00 426.11 L1079.62 426.12 L1080.40 426.44 L1080.90 426.32 L1081.47 426.75 L1082.41 427.80 L1083.01 427.26 L1083.41 427.05 L1084.12 427.37 L1084.70 427.49 L1085.34 427.37 L1086.00 427.20 L1086.64 427.56 L1086.98 427.31 L1087.73 427.41 L1088.34 427.32 L1088.86 427.80 L1089.46 427.71 L1090.22 427.59 L1090.72 427.93 L1091.32 427.88 L1091.80 427.43 L1092.58 427.05 L1093.25 427.07 L1093.77 427.18 L1094.47 427.56 L1095.04 427.50 L1095.60 427.67 L1096.09 427.21 L1096.85 427.15 L1097.48 427.21 L1097.84 427.10 L1098.64 427.95 L1099.14 427.66 L1099.69 427.91 L1100.42 427.15 L1100.83 427.70 L1101.43 427.84 L1102.11 427.23 L1102.80 427.32 L1103.39 427.15 L1104.10 427.32 L1104.68 427.15 L1105.27 427.98 L1105.75 427.03 L1106.35 427.64 L1106.91 427.55 L1107.47 427.46 L1108.26 427.43 L1108.85 427.11 L1109.50 427.12 L1110.13 428.00 L1110.73 427.53 L1111.14 427.35 L1111.88 427.50 L1112.54 427.09 L1113.01 427.86 L1113.64 427.54 L1114.09 427.14 L1114.75 427.89 L1115.52 427.23 L1116.15 427.03 L1116.65 427.97 L1117.18 427.94 L1117.88 427.05 L1118.38 427.45 L1118.96 427.74 L1119.54 427.79 L1120.18 427.07 L1120.86 427.10 L1121.46 427.79 L1122.07 427.46 L1122.51 427.51 L1123.13 427.65 L1123.74 427.58 L1124.41 427.37 L1125.10 427.16 L1125.56 427.94 L1126.21 427.84 L1126.97 427.48 L1127.36 427.09 L1128.18 427.12 L1128.67 427.54 L1129.15 427.47 L1129.77 427.54 L1130.48 427.37 L1130.99 427.40 L1131.59 427.13 L1132.20 427.87 L1132.88 427.89 L1133.34 427.94 L1134.08 427.79 L1134.71 427.69 L1135.21 427.75 L1135.79 427.26 L1136.35 427.39 L1137.10 427.29 L1137.70 427.50 L1138.40 418.20 L1149.40 418.50 L1153.50 423.00 L1153.59 422.87 L1154.12 422.98 L1154.73 423.42 L1155.36 422.84 L1155.85 423.26 L1156.63 422.81 L1157.14 423.33 L1157.79 423.05 L1158.39 423.14 L1159.02 422.77 L1159.62 423.09 L1160.10 422.83 L1160.66 423.34 L1161.37 422.87 L1161.89 422.86 L1162.46 422.92 L1163.09 423.52 L1163.85 423.37 L1164.33 423.13 L1165.00 423.45 L1165.60 423.23 L1166.07 423.22 L1166.83 423.34 L1167.25 423.29 L1167.91 422.84 L1168.66 423.24 L1169.21 422.81 L1169.83 423.45 L1170.45 423.29 L1171.04 423.33 L1171.58 423.03 L1172.24 423.31 L1172.85 422.92 L1173.47 423.10 L1174.07 422.76 L1174.68 423.29 L1175.11 423.33 L1175.71 422.82 L1176.36 422.84 L1176.97 423.38 L1177.62 423.21 L1178.15 423.27 L1178.85 423.18 L1179.49 423.29 L1179.96 422.70 L1180.62 423.30 L1181.15 423.10 L1181.87 423.25 L1182.27 423.01 L1182.88 422.70 L1183.67 422.94 L1184.22 422.97 L1184.76 422.77 L1185.37 423.27 L1186.03 422.83 L1186.51 422.80 L1187.26 422.94 L1187.85 423.23 L1188.32 423.12 L1188.90 423.23 L1189.54 422.79 L1190.33 422.85 L1190.75 423.27 L1191.45 423.27 L1192.00 422.95 L1192.73 422.95 L1193.34 422.70 L1193.91 422.67 L1194.44 422.54 L1194.96 423.29 L1195.62 423.18 L1196.18 422.81 L1196.74 422.96 L1197.53 422.93 L1198.01 423.26 L1198.74 423.04 L1199.14 423.01 L1199.84 423.27 L1200.42 423.03 L1201.08 422.80 L1201.66 423.03 L1202.35 422.89 L1202.83 423.26 L1203.35 423.15 L1204.11 422.92 L1204.65 423.07 L1205.36 423.05 L1205.93 422.49 L1206.43 422.57 L1207.18 423.17 L1207.59 422.92 L1208.29 422.49 L1208.85 423.04 L1209.51 422.67 L1210.14 422.67 L1210.69 422.77 L1211.40 422.95 L1211.96 422.97 L1212.46 423.19 L1213.14 422.97 L1213.64 422.54 L1214.31 423.07 L1214.97 422.68 L1215.41 422.82 L1216.19 422.53 L1216.76 422.53 L1217.26 422.43 L1217.86 422.69 L1218.62 423.15 L1219.04 422.63 L1219.82 422.53 L1220.27 422.72 L1220.82 422.58 L1221.49 422.67 L1222.23 422.57 L1222.65 423.08 L1223.31 423.02 L1223.96 422.97 L1224.48 422.47 L1225.19 422.72 L1225.75 422.87 L1226.39 422.55 L1226.90 423.06 L1227.54 422.56 L1228.17 422.53 L1228.81 422.35 L1229.42 422.77 L1229.91 423.06 L1230.49 422.50 L1231.05 422.74 L1231.81 422.84 L1232.33 422.94 L1232.86 422.54 L1233.59 423.06 L1234.19 422.84 L1234.83 422.59 L1235.47 422.87 L1235.93 422.59 L1236.64 422.55 L1237.09 422.96 L1237.78 422.68 L1238.41 422.98 L1238.89 422.52 L1239.47 422.58 L1240.18 422.93 L1240.82 422.70 L1241.36 422.70 L1241.93 422.91 L1242.65 422.90 L1243.10 422.76 L1243.85 422.62 L1244.49 422.94 L1245.05 422.87 L1245.63 422.91 L1246.11 422.77 L1246.85 422.69 L1247.35 422.25 L1248.03 422.85 L1248.55 422.36 L1249.14 422.26 L1249.85 422.96 L1250.48 422.47 L1251.06 422.23 L1251.70 422.43 L1252.10 422.67 L1252.73 422.38 L1253.31 422.52 L1254.04 422.80 L1254.51 422.81 L1255.13 422.33 L1255.86 422.42 L1256.39 422.59 L1256.96 422.77 L1257.56 422.80 L1258.31 422.56 L1258.73 422.75 L1259.33 422.52 L1260.02 422.17 L1260.67 422.69 L1261.27 422.43 L1261.85 422.58 L1262.38 422.80 L1263.17 422.74 L1263.76 422.36 L1264.37 422.15 L1264.85 422.19 L1265.45 422.63 L1266.11 422.44 L1266.62 422.23 L1267.24 422.30 L1267.79 422.66 L1268.47 422.41 L1269.00 422.62 L1269.60 422.27 L1270.29 422.61 L1270.99 422.65 L1271.59 422.78 L1272.13 422.61 L1272.58 422.20 L1273.17 422.72 L1273.94 422.53 L1274.43 422.31 L1275.01 422.53 L1275.81 422.26 L1276.18 422.15 L1276.86 422.73 L1277.57 422.37 L1278.00 422.09 L1278.62 422.62 L1279.30 422.79 L1280.00 422.62 L1280.50 422.64 L1281.02 422.07 L1281.73 422.38 L1282.24 422.18 L1282.80 422.70 L1283.57 422.72 L1284.23 422.31 L1284.78 422.27 L1285.40 422.63 L1285.84 421.96 L1286.46 422.41 L1287.10 421.95 L1287.81 422.57 L1288.32 421.97 L1289.03 422.36 L1289.43 422.19 L1290.17 422.63 L1290.74 422.43 L1291.27 422.11 L1292.04 422.22 L1292.45 422.38 L1293.06 422.06 L1293.74 422.37 L1294.38 422.46 L1294.94 421.95 L1295.61 421.93 L1296.15 422.21 L1296.80 422.45 L1297.30 422.40 L1298.01 422.25 L1298.48 422.60 L1299.19 421.92 L1299.71 422.65 L1300.31 422.17 L1301.04 422.51 L1301.61 422.44 L1302.07 421.92 L1302.89 422.48 L1303.27 421.88 L1303.92 422.58 L1304.52 422.37 L1305.29 422.34 L1305.89 422.03 L1306.31 421.83 L1307.05 421.90 L1307.71 422.38 L1308.12 422.45 L1308.72 422.21 L1309.40 422.20" fill="none" stroke="#ff0000" stroke-width="3.5" stroke-linejoin="round" stroke-linecap="round"/>
<path d="M1309.40 422.20 L1311.00 380.00 L1312.10 320.00 L1315.30 208.20" fill="none" stroke="#ff0000" stroke-width="2.8" stroke-linejoin="round" stroke-linecap="round"/>
<path d="M786.60 502.00 L787.20 490.00 L788.00 476.00 L790.60 473.10 L796.00 471.00 L801.30 468.30 L802.90 467.00 L805.00 471.00 L811.90 470.70 L811.90 470.84 L812.60 470.72 L813.08 471.15 L813.62 470.89 L814.27 470.97 L814.80 471.19 L815.47 470.26 L816.04 470.61 L816.57 470.63 L817.29 470.91 L817.87 470.47 L818.44 470.95 L819.25 470.74 L819.64 471.01 L820.29 470.42 L820.81 470.99 L821.62 470.85 L822.12 470.78 L822.65 471.18 L823.29 470.86 L824.03 471.03 L824.53 470.51 L825.15 470.34 L825.84 470.57 L826.45 470.49 L826.91 470.48 L827.52 470.41 L828.00 470.95 L828.68 470.47 L829.29 470.70 L829.93 470.86 L830.60 470.59 L831.28 471.08 L831.62 471.06 L832.48 471.01 L832.85 471.06 L833.60 470.25 L834.02 471.18 L834.81 470.48 L835.25 470.38 L835.89 471.01 L836.53 470.39 L837.29 471.03 L837.68 471.13 L838.41 471.02 L839.03 471.13 L839.67 471.08 L840.09 470.93 L840.79 470.98 L841.37 471.13 L842.00 470.51 L842.51 470.38 L843.19 470.30 L843.78 470.39 L844.39 470.75 L845.01 471.11 L845.45 471.09 L846.19 470.81 L846.85 471.09 L847.37 470.67 L848.14 470.33 L848.65 470.89 L849.07 470.86 L849.86 471.19 L850.36 471.24 L851.02 470.74 L851.73 470.29 L852.28 470.88 L852.77 471.12 L853.38 470.73 L854.03 471.03 L854.54 470.70 L855.20 470.82 L855.92 470.56 L856.53 470.67 L857.03 470.54 L857.63 471.24 L858.28 471.06 L858.78 470.58 L859.38 470.86 L860.08 471.05 L860.50 470.99 L861.36 470.82 L861.71 470.57 L862.30 470.46 L863.17 470.88 L863.70 471.06 L864.37 470.89 L864.89 470.90 L865.51 470.87 L866.11 470.49 L866.71 470.74 L867.34 470.38 L867.77 470.32 L868.55 471.20 L869.11 470.65 L869.76 471.07 L870.29 470.54 L870.81 470.71 L871.42 470.72 L872.12 471.22 L872.54 470.86 L873.14 470.41 L873.97 470.86 L874.61 470.74 L874.94 470.68 L875.71 471.23 L876.43 470.77 L876.86 470.40 L877.53 470.51 L877.99 470.31 L878.54 470.98 L879.18 471.26 L879.77 471.17 L880.39 470.32 L881.10 470.80 L883.00 470.50 L884.10 420.40 L886.40 417.80 L892.80 415.70 L902.40 413.00 L905.60 410.30 L914.10 407.70 L915.40 407.80 L916.20 422.00 L919.40 424.20 L919.47 424.14 L920.07 424.09 L920.47 424.68 L921.28 424.76 L921.89 423.99 L922.46 424.62 L923.01 424.84 L923.55 424.88 L924.30 423.92 L924.69 424.57 L925.54 424.00 L925.99 424.65 L926.55 424.78 L927.25 423.98 L927.82 424.50 L928.44 424.60 L928.96 424.72 L929.63 424.57 L930.31 424.35 L930.84 424.72 L931.61 424.72 L932.10 424.23 L932.56 424.91 L933.35 424.76 L933.85 424.54 L934.64 424.77 L935.14 424.25 L935.69 424.83 L936.28 424.63 L936.95 424.84 L937.61 424.23 L937.98 424.21 L938.71 424.54 L939.43 424.84 L939.80 424.79 L940.63 424.82 L941.17 424.23 L941.85 424.77 L942.41 424.88 L942.91 424.05 L943.58 424.76 L944.08 424.72 L944.90 424.20 L945.41 424.65 L945.97 424.18 L946.51 424.72 L947.27 424.43 L947.67 424.78 L948.48 424.21 L949.02 424.88 L949.72 424.50 L950.20 424.57 L950.72 424.18 L951.32 424.69 L951.98 424.55 L952.59 424.51 L953.12 424.03 L953.98 424.37 L954.32 424.63 L955.12 424.15 L955.67 424.34 L956.25 424.02 L956.71 424.99 L957.56 424.49 L958.08 424.26 L958.75 424.43 L959.40 424.77 L959.97 424.97 L960.40 424.05 L960.99 424.19 L961.56 424.06 L962.30 424.89 L962.88 424.96 L963.62 424.08 L964.13 424.42 L964.59 424.98 L965.23 424.59 L965.95 424.98 L966.57 424.42 L967.10 424.19 L967.86 425.02 L968.24 424.07 L968.86 424.38 L969.66 424.94 L970.24 424.08 L970.83 424.75 L971.39 425.02 L971.82 424.19 L972.63 424.98 L973.21 424.34 L973.79 424.80 L974.25 424.37 L974.90 424.17 L975.57 424.22 L976.10 424.19 L976.84 424.07 L977.45 424.25 L977.85 424.98 L978.51 424.99 L979.31 424.95 L979.70 424.51 L980.29 424.99 L981.11 424.69 L981.60 424.41 L982.32 424.55 L982.86 424.21 L983.34 424.13 L984.10 424.63 L984.53 424.94 L985.17 424.49 L985.74 424.35 L986.55 424.41 L986.95 424.57 L987.60 424.99 L988.14 425.06 L988.73 424.98 L989.52 424.30 L990.07 424.37 L990.60 424.29 L991.24 425.08 L992.03 425.02 L992.37 424.38 L993.21 424.15 L993.76 424.39 L994.30 424.60 L995.30 355.90 L998.70 353.80 L1004.20 349.70 L1011.00 344.90 L1020.60 342.90 L1026.10 342.20 L1028.20 336.70 L1037.10 335.30 L1042.50 332.60 L1046.00 331.90 L1048.00 329.20 L1053.50 328.50 L1056.90 324.80 L1058.30 359.30 L1061.00 363.40 L1061.14 362.92 L1061.70 363.24 L1062.10 362.90 L1062.91 363.43 L1063.32 363.34 L1064.14 363.12 L1064.65 363.04 L1065.13 363.67 L1065.90 363.10 L1066.31 362.99 L1067.07 363.40 L1067.58 363.11 L1068.28 363.61 L1068.95 363.48 L1069.37 362.97 L1070.13 363.31 L1070.73 362.96 L1071.36 363.24 L1071.97 363.76 L1072.47 362.92 L1073.20 363.38 L1073.79 363.17 L1074.19 363.73 L1074.85 363.06 L1075.46 363.49 L1075.95 363.42 L1076.69 363.42 L1077.19 363.61 L1078.01 363.77 L1078.46 363.61 L1079.08 363.65 L1079.59 363.77 L1080.46 363.39 L1080.93 363.43 L1081.55 362.92 L1082.28 363.12 L1082.65 363.00 L1083.27 363.72 L1083.81 363.00 L1084.61 363.10 L1085.01 363.50 L1085.79 363.42 L1086.43 363.00 L1087.08 363.62 L1087.44 363.02 L1088.18 363.40 L1088.72 363.02 L1089.36 363.04 L1090.02 363.76 L1090.49 363.47 L1091.27 363.06 L1091.90 363.84 L1092.37 363.32 L1093.11 363.43 L1093.58 363.84 L1094.30 363.24 L1094.74 363.24 L1095.41 363.88 L1096.12 363.81 L1096.73 363.75 L1097.10 363.42 L1097.98 363.83 L1098.37 363.32 L1099.09 363.26 L1099.66 362.97 L1100.24 363.40 L1100.72 363.04 L1101.61 363.68 L1102.20 363.53 L1102.77 363.78 L1103.39 362.93 L1103.92 363.17 L1104.54 363.17 L1105.10 363.82 L1105.73 363.15 L1106.30 363.33 L1107.04 363.19 L1107.45 363.55 L1108.00 363.49 L1108.85 363.41 L1109.25 363.37 L1109.93 363.05 L1110.41 363.03 L1111.07 363.31 L1111.67 363.14 L1112.21 363.45 L1113.04 363.51 L1113.57 363.55 L1114.06 363.61 L1114.74 363.45 L1115.39 363.37 L1115.90 363.14 L1116.48 363.41 L1117.13 363.49 L1117.63 363.25 L1118.49 363.14 L1119.00 363.39 L1119.52 363.89 L1120.13 363.67 L1120.69 362.97 L1121.51 363.34 L1121.87 363.29 L1122.59 363.64 L1123.09 363.13 L1123.95 363.64 L1124.31 363.24 L1124.98 363.58 L1125.66 363.75 L1126.32 363.42 L1126.90 363.64 L1127.51 363.38 L1128.13 363.61 L1128.77 363.03 L1129.36 362.90 L1129.93 363.49 L1130.46 363.86 L1131.08 363.32 L1131.75 363.77 L1132.30 363.28 L1132.86 363.36 L1133.54 363.19 L1134.05 363.46 L1134.65 363.22 L1135.37 363.75 L1135.89 363.34 L1136.40 363.20 L1137.10 363.40 L1138.40 358.60 L1152.10 358.60 L1157.60 360.40 L1157.51 360.46 L1158.22 360.07 L1158.90 360.26 L1159.48 360.67 L1160.11 360.16 L1160.59 360.73 L1161.09 360.04 L1161.82 360.40 L1162.51 360.62 L1163.02 360.80 L1163.61 360.41 L1164.25 360.31 L1164.78 360.48 L1165.37 360.76 L1166.05 360.42 L1166.52 360.30 L1167.19 360.45 L1167.83 360.70 L1168.53 360.39 L1169.00 360.50 L1169.73 360.27 L1170.22 360.65 L1170.74 360.25 L1171.53 360.66 L1172.02 360.09 L1172.71 360.55 L1173.30 360.79 L1173.91 360.34 L1174.34 360.23 L1175.03 360.40 L1175.55 360.15 L1176.26 360.48 L1176.79 360.79 L1177.46 360.03 L1178.01 360.63 L1178.58 360.55 L1179.11 360.24 L1179.91 360.47 L1180.47 360.16 L1181.03 360.44 L1181.58 360.52 L1182.24 360.80 L1182.85 360.33 L1183.34 360.13 L1184.10 360.09 L1184.54 360.14 L1185.24 360.66 L1185.86 360.65 L1186.33 360.01 L1187.10 360.26 L1187.69 360.28 L1188.16 360.21 L1188.74 360.72 L1189.46 360.28 L1190.03 360.31 L1190.54 360.71 L1191.26 360.77 L1191.83 360.50 L1192.39 360.04 L1193.15 360.68 L1193.60 360.72 L1194.32 360.24 L1194.87 360.77 L1195.45 360.76 L1195.99 360.31 L1196.70 360.18 L1197.21 360.70 L1197.85 360.63 L1198.39 360.14 L1199.02 360.15 L1199.77 360.23 L1200.27 360.09 L1200.87 360.31 L1201.43 360.05 L1201.97 360.66 L1202.62 360.20 L1203.19 360.23 L1203.80 360.03 L1204.50 360.27 L1204.98 360.56 L1205.57 360.22 L1206.34 360.10 L1206.85 360.67 L1207.54 360.13 L1208.03 360.58 L1208.64 360.77 L1209.20 360.76 L1209.87 360.18 L1210.46 360.10 L1211.12 360.21 L1211.77 360.47 L1212.24 360.20 L1212.90 360.17 L1213.56 360.10 L1214.08 360.43 L1214.62 360.62 L1215.25 360.53 L1215.89 360.25 L1216.45 360.07 L1217.00 360.68 L1217.64 360.53 L1218.19 360.45 L1218.85 360.40 L1219.43 360.05 L1220.04 360.18 L1220.59 360.57 L1221.23 360.32 L1221.98 360.62 L1222.58 360.69 L1223.00 360.22 L1223.57 360.54 L1224.33 360.28 L1224.87 360.53 L1225.54 360.20 L1226.17 360.28 L1226.72 360.15 L1227.20 360.73 L1227.95 360.57 L1228.38 360.03 L1229.01 360.16 L1229.65 360.30 L1230.19 360.25 L1230.93 360.14 L1231.58 360.46 L1232.15 360.20 L1232.68 360.55 L1233.26 360.00 L1233.98 360.62 L1234.45 360.03 L1235.19 360.49 L1235.59 360.20 L1236.21 360.63 L1236.83 360.73 L1237.57 360.07 L1238.15 360.31 L1238.77 360.66 L1239.25 360.07 L1240.02 360.34 L1240.61 360.55 L1241.17 360.66 L1241.74 360.36 L1242.20 360.56 L1242.90 360.41 L1243.62 360.10 L1244.18 360.03 L1244.76 360.64 L1245.26 360.44 L1246.03 360.51 L1246.53 360.20 L1247.01 360.29 L1247.70 360.16 L1248.27 360.11 L1248.97 360.54 L1249.46 360.19 L1250.13 360.36 L1250.83 360.28 L1251.28 360.71 L1251.84 360.45 L1252.48 360.65 L1253.14 360.61 L1253.65 360.53 L1254.35 360.37 L1254.99 360.66 L1255.44 360.23 L1256.10 360.17 L1256.62 360.22 L1257.26 360.56 L1257.92 360.09 L1258.49 360.37 L1259.10 360.13 L1259.63 360.01 L1260.45 360.60 L1260.84 360.57 L1261.65 360.45 L1262.04 360.39 L1262.72 360.15 L1263.35 360.01 L1264.04 360.52 L1264.57 360.75 L1265.18 360.20 L1265.68 360.11 L1266.23 360.62 L1267.03 360.24 L1267.47 360.51 L1268.23 360.74 L1268.67 360.63 L1269.43 360.59 L1269.91 360.15 L1270.63 360.26 L1271.12 360.44 L1271.72 360.67 L1272.29 360.03 L1272.97 360.50 L1273.63 360.56 L1274.25 360.76 L1274.75 360.40 L1275.27 360.24 L1275.98 360.06 L1276.60 360.13 L1277.14 360.78 L1277.66 360.03 L1278.34 360.15 L1279.01 360.00 L1279.64 360.68 L1280.23 360.34 L1280.71 360.53 L1281.37 360.34 L1281.92 360.35 L1282.60 360.66 L1283.26 360.13 L1283.72 360.35 L1284.38 360.28 L1284.89 360.07 L1285.53 360.37 L1286.28 360.73 L1286.86 360.78 L1287.48 360.50 L1288.05 360.05 L1288.61 360.49 L1289.12 360.46 L1289.88 360.38 L1290.41 360.24 L1290.94 360.71 L1291.46 360.15 L1292.22 360.36 L1292.68 360.53 L1293.35 360.46 L1293.96 360.42 L1294.60 360.32 L1295.09 360.14 L1295.88 360.44 L1296.29 360.69 L1296.92 360.08 L1297.59 360.20 L1298.18 360.44 L1298.72 360.46 L1299.29 360.41 L1300.01 360.06 L1300.57 360.06 L1301.17 360.69 L1301.80 360.57 L1302.45 360.09 L1303.11 360.58 L1303.50 360.66 L1304.17 360.14 L1304.90 360.45 L1305.46 360.11 L1306.06 360.05 L1306.53 360.30 L1307.08 360.48 L1307.73 360.24 L1308.45 360.34 L1309.09 360.50 L1309.60 360.40" fill="none" stroke="#000" stroke-width="3.5" stroke-linejoin="round" stroke-linecap="round"/>
<path d="M1309.60 360.40 L1310.30 330.00 L1312.50 200.00 L1315.30 24.30" fill="none" stroke="#000" stroke-width="3.1" stroke-linejoin="round" stroke-linecap="round"/>
<path d="M1466.46 449.01 L1467.06 448.64 L1467.48 449.99 L1467.86 449.92 L1468.41 451.88 L1468.50 451.50" fill="none" stroke="#0000ff" stroke-width="5.2" stroke-linejoin="round" stroke-linecap="round"/>
<path d="M1473.78 410.00 L1474.03 410.46 L1474.44 412.55 L1474.59 413.83 L1474.38 413.60 L1475.25 412.42 L1475.05 412.75 L1475.47 415.12 L1475.47 415.55 L1475.69 416.09 L1475.81 417.34 L1476.25 415.11 L1476.26 417.63 L1477.21 417.88 L1476.91 419.04 L1477.55 417.42 L1477.43 419.48 L1477.28 418.22 L1477.74 421.05 L1478.45 419.99 L1478.20 421.00" fill="none" stroke="#0000ff" stroke-width="5.2" stroke-linejoin="round" stroke-linecap="round"/>
<path d="M1485.34 374.60 L1485.51 374.58 L1485.79 375.27 L1485.98 375.58 L1485.55 375.99 L1485.99 376.01 L1486.09 377.03 L1486.52 376.72 L1486.51 378.01 L1486.95 378.27 L1487.34 378.12 L1487.48 378.87 L1487.93 380.57 L1488.15 380.55 L1487.92 382.19 L1488.36 381.15 L1488.39 381.73 L1488.96 383.39 L1488.99 383.65 L1489.03 383.37 L1489.41 383.46 L1489.68 385.21 L1490.26 384.18 L1490.11 386.30 L1490.60 386.00" fill="none" stroke="#0000ff" stroke-width="5.2" stroke-linejoin="round" stroke-linecap="round"/>
<path d="M1473.63 449.79 L1473.95 450.29 L1473.98 448.97 L1474.38 449.34 L1475.22 451.17 L1475.31 452.86 L1475.50 452.00" fill="none" stroke="#ff0000" stroke-width="5.2" stroke-linejoin="round" stroke-linecap="round"/>
<path d="M1492.26 411.24 L1492.16 411.40 L1492.85 413.66 L1492.89 413.13 L1493.01 413.96 L1493.68 415.61 L1494.19 415.83 L1494.25 414.88 L1494.54 416.73 L1494.83 414.74 L1495.32 417.18 L1496.11 415.93 L1496.42 417.89 L1496.37 416.34 L1496.97 417.25 L1496.74 419.13 L1497.32 418.11 L1497.76 418.11 L1497.59 418.89 L1498.30 419.60" fill="none" stroke="#ff0000" stroke-width="5.2" stroke-linejoin="round" stroke-linecap="round"/>
<path d="M1513.10 372.43 L1513.35 374.99 L1513.57 375.22 L1514.08 374.30 L1513.83 376.12 L1514.58 375.51 L1514.49 377.54 L1515.34 376.25 L1515.36 377.64 L1515.42 376.56 L1515.71 378.69 L1516.23 378.74 L1516.11 378.34 L1516.56 379.34 L1516.89 381.13 L1517.18 381.61 L1517.78 381.50 L1518.28 380.99 L1518.90 379.71 L1519.50 382.37 L1519.31 382.77 L1519.73 383.86 L1519.63 382.66 L1520.02 383.85 L1520.73 384.96 L1520.79 384.18 L1521.25 383.89 L1521.30 385.96 L1521.95 386.88 L1522.16 385.64 L1522.76 384.61 L1522.91 385.35 L1523.39 386.81 L1523.76 386.91 L1524.17 388.05 L1524.65 387.57 L1524.51 388.98 L1524.64 390.51 L1524.76 391.06 L1525.14 389.99 L1525.61 391.09 L1525.59 390.20 L1526.40 391.46 L1525.95 392.72 L1526.56 392.25 L1526.64 394.15 L1526.91 393.41 L1527.30 394.10" fill="none" stroke="#ff0000" stroke-width="5.2" stroke-linejoin="round" stroke-linecap="round"/>
<path d="M1509.38 486.61 L1509.01 485.55 L1509.31 486.46 L1509.22 485.24 L1509.13 485.81 L1509.41 485.43 L1509.42 484.65 L1509.22 482.72 L1510.09 483.51 L1509.94 482.49 L1509.86 481.15 L1509.70 481.91 L1510.22 480.32 L1510.27 479.48 L1510.33 479.08 L1510.33 478.98 L1510.45 477.98 L1510.49 478.83 L1510.28 477.46 L1510.83 477.63 L1510.86 477.78 L1510.91 475.72 L1510.89 476.92 L1511.09 476.21 L1511.00 474.86 L1511.60 475.40 L1511.42 472.90 L1511.48 472.19 L1511.84 474.32 L1511.75 471.85 L1511.94 471.10 L1512.01 471.56 L1511.42 472.09 L1511.86 471.42 L1512.16 470.09 L1512.40 468.67 L1512.53 468.55 L1511.90 468.04 L1512.04 466.80 L1512.60 466.44 L1512.31 466.42 L1512.51 467.68 L1513.14 467.04 L1513.31 465.33 L1513.25 464.39 L1513.46 465.37 L1513.40 463.24 L1512.96 464.69 L1513.44 463.31 L1513.80 461.50 L1513.77 461.90 L1513.94 461.38 L1513.55 462.28 L1513.72 461.19 L1514.28 459.29 L1514.26 459.21 L1513.97 458.21 L1514.68 458.13 L1514.41 458.00 L1514.10 458.21 L1514.81 458.05 L1514.58 455.69 L1514.67 456.65 L1515.03 455.24 L1515.00 455.00" fill="none" stroke="#ff0000" stroke-width="5.2" stroke-linejoin="round" stroke-linecap="round"/>
<path d="M1483.32 448.33 L1484.02 449.67 L1484.04 451.00 L1484.15 451.27 L1484.64 451.97 L1484.79 450.92 L1485.50 452.00" fill="none" stroke="#000" stroke-width="5.2" stroke-linejoin="round" stroke-linecap="round"/>
<path d="M1510.31 410.95 L1510.40 411.72 L1510.56 411.82 L1510.68 413.34 L1511.19 413.93 L1511.74 413.78 L1512.11 412.95 L1512.51 413.86 L1512.86 415.69 L1512.98 416.22 L1513.06 416.26 L1513.77 415.35 L1513.33 416.42 L1513.95 416.13 L1513.99 418.58 L1514.41 417.02 L1514.63 418.55 L1515.04 418.61 L1515.73 418.84 L1516.10 420.29 L1516.09 420.89 L1516.65 418.73 L1517.52 420.56 L1517.70 420.70" fill="none" stroke="#000" stroke-width="5.2" stroke-linejoin="round" stroke-linecap="round"/>
<path d="M1545.53 373.21 L1546.09 373.89 L1546.40 374.10 L1546.63 375.70 L1546.82 375.66 L1546.92 376.54 L1547.80 375.60 L1548.04 377.65 L1548.06 378.25 L1549.11 376.34 L1548.99 376.74 L1549.39 377.04 L1549.99 377.80 L1550.23 378.69 L1550.69 379.91 L1551.39 378.32 L1551.37 378.32 L1551.86 378.90 L1552.33 381.28 L1552.75 380.19 L1552.11 382.22 L1552.59 383.21 L1552.74 381.97 L1552.64 384.25 L1553.18 383.33 L1553.28 384.75 L1553.78 384.43 L1553.40 384.74 L1554.16 385.24 L1554.14 386.17 L1554.11 386.74 L1554.07 387.22 L1554.73 386.41 L1554.46 389.18 L1555.12 387.28 L1554.96 389.54 L1555.29 389.62 L1554.80 388.65 L1555.40 389.35 L1555.09 388.62 L1555.58 388.16 L1555.15 387.06 L1555.52 387.01 L1555.64 385.20 L1556.03 385.15 L1556.24 384.71 L1556.15 385.62 L1555.90 384.91 L1555.97 384.99 L1556.05 383.90 L1556.45 381.88 L1556.58 382.29 L1556.71 380.73 L1556.91 380.73 L1557.39 380.47 L1557.09 380.55 L1557.68 381.33 L1557.55 383.27 L1557.48 383.57 L1557.53 382.28 L1557.47 383.74 L1558.31 383.57 L1558.09 385.65 L1558.10 384.46 L1558.44 385.73 L1558.94 387.57 L1558.49 387.14 L1558.79 386.18 L1558.95 389.16 L1559.08 388.69 L1559.68 387.68 L1560.11 388.26 L1559.83 390.40 L1559.85 389.90 L1560.19 390.63 L1560.34 390.17 L1560.77 390.43 L1560.91 391.19 L1561.51 391.48 L1561.86 391.75 L1561.48 390.74 L1562.07 389.68 L1562.08 389.30 L1562.34 389.65 L1562.14 390.40 L1561.82 387.65 L1562.41 388.60 L1562.53 387.21 L1562.43 386.44 L1562.48 386.18 L1562.70 385.71 L1562.53 386.16 L1562.46 386.08 L1562.90 383.96 L1563.00 384.20" fill="none" stroke="#000" stroke-width="5.2" stroke-linejoin="round" stroke-linecap="round"/>
<path d="M1465.00 490.00 L1468.00 478.00 L1471.00 468.00 L1474.00 461.00 L1478.00 456.00 L1481.00 452.00 L1483.30 449.30 L1485.50 452.00 L1484.50 470.00 L1483.20 490.00 L1483.60 490.00 L1485.50 470.00 L1487.70 453.70 L1493.00 447.00 L1499.40 438.80 L1505.00 425.00 L1510.20 411.00 L1512.00 414.00 L1514.50 418.00 L1517.70 420.70 L1517.00 430.00 L1516.50 439.00 L1514.00 460.00 L1512.50 475.00 L1510.50 488.00 L1511.30 482.50 L1515.00 471.00 L1520.00 455.00 L1530.00 425.00 L1540.00 392.00 L1545.50 374.00 L1548.00 377.00 L1550.00 378.60 L1553.00 388.50 L1556.50 380.90 L1559.10 392.40 L1561.00 388.00 L1563.00 384.70 L1563.30 403.80 L1562.40 425.00 L1559.20 450.50 L1553.90 466.50 L1545.40 489.90 L1543.20 489.90 L1542.20 466.50 L1544.30 452.70 L1551.80 438.80 L1553.90 426.00 L1558.20 421.80 L1563.30 414.40" fill="none" stroke="#000" stroke-width="3.4" stroke-linejoin="round" stroke-linecap="round"/>
<path d="M1563.30 413.50 L1563.93 412.30 L1564.55 411.13 L1565.18 409.97 L1565.80 408.80 L1566.43 407.62 L1567.05 406.40 L1567.68 405.13 L1568.30 403.80 L1569.06 402.05 L1569.81 400.19 L1570.56 398.25 L1571.31 396.25 L1572.07 394.25 L1572.83 392.27 L1573.61 390.34 L1574.40 388.50 L1575.14 386.92 L1575.89 385.40 L1576.65 383.92 L1577.42 382.46 L1578.20 381.00 L1578.97 379.52 L1579.74 377.99 L1580.50 376.40 L1581.36 374.51 L1582.23 372.54 L1583.11 370.53 L1583.97 368.48 L1584.83 366.42 L1585.68 364.38 L1586.50 362.36 L1587.30 360.40 L1588.00 358.65 L1588.68 356.92 L1589.33 355.22 L1589.98 353.54 L1590.62 351.85 L1591.26 350.15 L1591.92 348.44 L1592.60 346.70 L1593.33 344.81 L1594.07 342.86 L1594.82 340.89 L1595.58 338.92 L1596.34 336.96 L1597.12 335.04 L1597.90 333.18 L1598.70 331.40 L1599.40 329.93 L1600.09 328.51 L1600.80 327.12 L1601.51 325.77 L1602.23 324.44 L1602.97 323.13 L1603.73 321.82 L1604.50 320.50 L1605.30 319.21 L1606.15 317.96 L1607.02 316.72 L1607.89 315.49 L1608.77 314.25 L1609.62 312.99 L1610.43 311.67 L1611.20 310.30 L1611.97 308.73 L1612.68 307.11 L1613.35 305.45 L1613.99 303.75 L1614.63 302.02 L1615.28 300.24 L1615.96 298.44 L1616.70 296.60 L1617.62 294.37 L1618.56 292.09 L1619.52 289.77 L1620.51 287.39 L1621.54 284.97 L1622.61 282.49 L1623.73 279.97 L1624.90 277.40 L1626.44 274.16 L1628.12 270.77 L1629.89 267.28 L1631.71 263.73 L1633.53 260.18 L1635.32 256.67 L1637.02 253.26 L1638.60 250.00 L1639.80 247.42 L1640.89 244.98 L1641.91 242.63 L1642.91 240.31 L1643.92 237.95 L1645.00 235.48 L1646.18 232.86 L1647.50 230.00 L1649.85 225.14 L1652.52 219.79 L1655.42 214.08 L1658.47 208.11 L1661.58 202.03 L1664.64 195.95 L1667.58 190.00 L1670.30 184.30 L1672.67 179.08 L1675.02 173.65 L1677.34 168.15 L1679.60 162.74 L1681.76 157.58 L1683.80 152.80 L1685.69 148.55 L1687.40 145.00 L1688.18 143.54 L1688.91 142.26 L1689.61 141.13 L1690.28 140.09 L1690.93 139.09 L1691.56 138.09 L1692.18 137.04 L1692.80 135.90 L1693.44 134.61 L1694.06 133.31 L1694.65 131.98 L1695.23 130.64 L1695.81 129.27 L1696.39 127.88 L1696.99 126.46 L1697.60 125.00 L1698.33 123.25 L1699.07 121.43 L1699.82 119.56 L1700.57 117.67 L1701.34 115.75 L1702.11 113.84 L1702.90 111.95 L1703.70 110.10 L1704.53 108.26 L1705.40 106.38 L1706.30 104.48 L1707.20 102.60 L1708.08 100.77 L1708.93 99.03 L1709.71 97.39 L1710.40 95.90 L1710.81 95.01 L1711.18 94.17 L1711.54 93.38 L1711.87 92.62 L1712.20 91.89 L1712.50 91.18 L1712.80 90.49 L1713.10 89.80 L1713.34 89.19 L1713.58 88.52 L1713.80 87.83 L1714.03 87.16 L1714.24 86.57 L1714.44 86.10 L1714.63 85.80 L1714.80 85.70 L1715.03 86.15 L1715.18 87.29 L1715.28 88.93 L1715.36 90.88 L1715.43 92.94 L1715.53 94.93 L1715.68 96.64 L1715.90 97.90 L1716.04 98.38 L1716.19 98.86 L1716.35 99.32 L1716.52 99.74 L1716.69 100.09 L1716.87 100.37 L1717.04 100.54 L1717.20 100.60 L1717.42 100.44 L1717.63 100.03 L1717.84 99.42 L1718.05 98.66 L1718.26 97.80 L1718.47 96.91 L1718.68 96.02 L1718.90 95.20 L1719.17 94.05 L1719.40 92.70 L1719.63 91.25 L1719.87 89.78 L1720.13 88.40 L1720.45 87.19 L1720.83 86.26 L1721.30 85.70 L1721.59 85.55 L1721.92 85.46 L1722.26 85.44 L1722.62 85.47 L1722.98 85.56 L1723.33 85.69 L1723.68 85.87 L1724.00 86.10 L1724.60 86.81 L1725.14 87.86 L1725.65 89.18 L1726.13 90.67 L1726.60 92.24 L1727.08 93.82 L1727.57 95.30 L1728.10 96.60 L1728.57 97.61 L1729.04 98.59 L1729.50 99.54 L1729.98 100.47 L1730.47 101.38 L1730.98 102.27 L1731.53 103.14 L1732.10 104.00 L1732.70 104.83 L1733.34 105.66 L1734.01 106.47 L1734.69 107.27 L1735.39 108.03 L1736.10 108.76 L1736.80 109.45 L1737.50 110.10 L1738.10 110.65 L1738.70 111.22 L1739.32 111.78 L1739.93 112.30 L1740.54 112.77 L1741.15 113.14 L1741.73 113.39 L1742.30 113.50 L1742.76 113.48 L1743.21 113.37 L1743.67 113.19 L1744.11 112.95 L1744.54 112.65 L1744.95 112.30 L1745.34 111.92 L1745.70 111.50 L1746.17 110.79 L1746.58 109.94 L1746.94 108.98 L1747.25 107.93 L1747.55 106.81 L1747.83 105.65 L1748.11 104.47 L1748.40 103.30 L1748.77 101.77 L1749.12 100.14 L1749.46 98.43 L1749.78 96.67 L1750.10 94.90 L1750.42 93.15 L1750.75 91.44 L1751.10 89.80 L1751.41 88.35 L1751.71 86.87 L1752.02 85.39 L1752.32 83.95 L1752.65 82.56 L1752.99 81.25 L1753.38 80.06 L1753.80 79.00 L1754.10 78.38 L1754.40 77.77 L1754.72 77.20 L1755.04 76.67 L1755.38 76.20 L1755.74 75.79 L1756.11 75.45 L1756.50 75.20 L1756.81 75.07 L1757.13 74.97 L1757.47 74.92 L1757.81 74.91 L1758.15 74.93 L1758.50 74.99 L1758.85 75.08 L1759.20 75.20 L1759.69 75.46 L1760.16 75.84 L1760.63 76.31 L1761.10 76.83 L1761.60 77.40 L1762.12 77.96 L1762.68 78.51 L1763.30 79.00 L1764.24 79.61 L1765.30 80.21 L1766.45 80.81 L1767.65 81.40 L1768.85 81.99 L1770.02 82.56 L1771.12 83.13 L1772.10 83.70 L1772.76 84.13 L1773.36 84.56 L1773.92 84.99 L1774.46 85.42 L1775.00 85.84 L1775.56 86.24 L1776.15 86.63 L1776.80 87.00 L1777.64 87.44 L1778.54 87.90 L1779.48 88.36 L1780.45 88.79 L1781.43 89.16 L1782.39 89.46 L1783.32 89.65 L1784.20 89.70 L1784.92 89.63 L1785.62 89.47 L1786.31 89.22 L1786.98 88.92 L1787.64 88.57 L1788.30 88.19 L1788.95 87.80 L1789.60 87.40 L1790.30 86.93 L1790.97 86.38 L1791.63 85.79 L1792.28 85.18 L1792.94 84.57 L1793.63 83.98 L1794.34 83.45 L1795.10 83.00 L1795.94 82.60 L1796.82 82.25 L1797.73 81.93 L1798.66 81.66 L1799.62 81.42 L1800.58 81.22 L1801.54 81.05 L1802.50 80.90 L1803.50 80.79 L1804.54 80.72 L1805.59 80.70 L1806.65 80.70 L1807.70 80.73 L1808.71 80.78 L1809.69 80.84 L1810.60 80.90 L1811.26 80.98 L1811.90 81.09 L1812.50 81.23 L1813.09 81.38 L1813.67 81.50 L1814.25 81.59 L1814.82 81.63 L1815.40 81.60 L1815.99 81.49 L1816.57 81.31 L1817.14 81.07 L1817.71 80.80 L1818.29 80.51 L1818.87 80.20 L1819.47 79.89 L1820.10 79.60 L1820.90 79.21 L1821.73 78.73 L1822.59 78.22 L1823.47 77.71 L1824.35 77.25 L1825.23 76.86 L1826.08 76.60 L1826.90 76.50 L1827.61 76.56 L1828.30 76.72 L1828.99 76.97 L1829.66 77.30 L1830.33 77.67 L1830.99 78.07 L1831.65 78.49 L1832.30 78.90 L1833.01 79.36 L1833.71 79.85 L1834.41 80.39 L1835.10 80.95 L1835.78 81.53 L1836.44 82.12 L1837.08 82.71 L1837.70 83.30 L1838.25 83.86 L1838.75 84.43 L1839.23 85.00 L1839.70 85.59 L1840.17 86.18 L1840.67 86.78 L1841.21 87.39 L1841.80 88.00 L1842.65 88.83 L1843.57 89.70 L1844.55 90.59 L1845.57 91.48 L1846.62 92.37 L1847.70 93.23 L1848.80 94.05 L1849.90 94.80 L1851.04 95.54 L1852.23 96.29 L1853.46 97.03 L1854.71 97.72 L1855.95 98.35 L1857.16 98.87 L1858.31 99.27 L1859.40 99.50 L1860.13 99.56 L1860.81 99.53 L1861.47 99.44 L1862.11 99.29 L1862.75 99.11 L1863.41 98.91 L1864.08 98.70 L1864.80 98.50 L1865.75 98.21 L1866.73 97.84 L1867.74 97.42 L1868.77 96.98 L1869.82 96.57 L1870.88 96.21 L1871.94 95.94 L1873.00 95.80 L1874.08 95.78 L1875.16 95.86 L1876.25 96.01 L1877.35 96.23 L1878.46 96.51 L1879.57 96.82 L1880.68 97.15 L1881.80 97.50 L1883.06 97.90 L1884.34 98.34 L1885.63 98.82 L1886.92 99.34 L1888.21 99.91 L1889.48 100.52 L1890.71 101.18 L1891.90 101.90 L1893.10 102.76 L1894.30 103.77 L1895.48 104.86 L1896.63 105.99 L1897.73 107.09 L1898.79 108.12 L1899.78 109.01 L1900.70 109.70 L1901.17 109.99 L1901.61 110.21 L1902.01 110.38 L1902.41 110.54 L1902.80 110.68 L1903.20 110.85 L1903.63 111.04 L1904.10 111.30 L1904.90 111.83 L1905.76 112.48 L1906.67 113.21 L1907.62 113.99 L1908.59 114.76 L1909.57 115.50 L1910.54 116.16 L1911.50 116.70 L1912.34 117.08 L1913.18 117.39 L1914.03 117.66 L1914.88 117.90 L1915.73 118.11 L1916.59 118.30 L1917.44 118.50 L1918.30 118.70 L1919.15 118.90 L1920.00 119.08 L1920.86 119.25 L1921.72 119.41 L1922.58 119.57 L1923.43 119.74 L1924.27 119.91 L1925.10 120.10 L1925.88 120.33 L1926.64 120.60 L1927.40 120.91 L1928.15 121.20 L1928.90 121.47 L1929.66 121.68 L1930.42 121.80 L1931.20 121.80 L1932.09 121.63 L1932.98 121.31 L1933.87 120.86 L1934.77 120.34 L1935.69 119.79 L1936.63 119.26 L1937.60 118.78 L1938.60 118.40 L1939.78 118.08 L1941.01 117.83 L1942.29 117.63 L1943.58 117.45 L1944.90 117.29 L1946.21 117.12 L1947.52 116.93 L1948.80 116.70 L1950.07 116.43 L1951.34 116.15 L1952.61 115.85 L1953.88 115.55 L1955.14 115.24 L1956.40 114.92 L1957.65 114.61 L1958.90 114.30 L1960.10 113.97 L1961.27 113.60 L1962.44 113.20 L1963.61 112.81 L1964.78 112.46 L1965.97 112.18 L1967.17 111.98 L1968.40 111.90 L1969.80 111.98 L1971.24 112.21 L1972.71 112.55 L1974.20 112.97 L1975.68 113.42 L1977.13 113.87 L1978.54 114.28 L1979.90 114.60 L1981.00 114.80 L1982.07 114.97 L1983.12 115.11 L1984.15 115.25 L1985.16 115.40 L1986.15 115.56 L1987.13 115.76 L1988.10 116.00 L1988.98 116.27 L1989.84 116.55 L1990.69 116.86 L1991.52 117.19 L1992.34 117.54 L1993.16 117.91 L1993.98 118.30 L1994.80 118.70 L1995.66 119.15 L1996.51 119.64 L1997.35 120.16 L1998.19 120.70 L1999.03 121.24 L1999.87 121.78 L2000.73 122.30 L2001.60 122.80 L2002.50 123.28 L2003.40 123.75 L2004.31 124.21 L2005.23 124.66 L2006.15 125.11 L2007.09 125.57 L2008.04 126.03 L2009.00 126.50 L2010.08 127.04 L2011.18 127.60 L2012.31 128.17 L2013.44 128.75 L2014.58 129.32 L2015.70 129.87 L2016.81 130.40 L2017.90 130.90 L2018.85 131.32 L2019.80 131.73 L2020.74 132.12 L2021.66 132.50 L2022.58 132.87 L2023.49 133.22 L2024.40 133.57 L2025.30 133.90 L2026.12 134.19 L2026.93 134.47 L2027.73 134.73 L2028.52 134.99 L2029.32 135.24 L2030.11 135.49 L2030.90 135.74 L2031.70 136.00" fill="none" stroke="#000" stroke-width="2.7" stroke-linejoin="round" stroke-linecap="round"/>
<path d="M1464.00 490.00 L1466.00 475.00 L1469.50 456.00 L1472.00 451.00 L1473.50 449.30 L1475.50 452.00 L1475.20 470.00 L1474.80 490.00 L1475.30 490.00 L1483.00 452.00 L1490.50 416.00 L1492.00 412.00 L1493.50 414.50 L1495.50 416.00 L1498.30 419.60 L1495.00 445.00 L1491.00 470.00 L1487.20 490.00 L1487.00 490.00 L1500.00 432.00 L1513.20 373.80 L1515.00 377.00 L1517.00 380.00 L1519.00 381.00 L1521.00 385.00 L1523.00 386.00 L1525.00 390.00 L1527.30 394.10 L1521.00 420.00 L1514.00 455.00 L1508.30 489.50 L1508.30 490.00 L1518.00 446.00 L1528.50 400.00 L1537.10 363.20" fill="none" stroke="#ff0000" stroke-width="3.4" stroke-linejoin="round" stroke-linecap="round"/>
<path d="M1537.10 363.20 L1538.18 359.12 L1539.28 355.00 L1540.37 350.86 L1541.47 346.73 L1542.56 342.63 L1543.63 338.59 L1544.68 334.64 L1545.70 330.80 L1546.56 327.60 L1547.39 324.54 L1548.21 321.58 L1549.01 318.66 L1549.82 315.70 L1550.63 312.66 L1551.45 309.48 L1552.30 306.10 L1553.44 301.37 L1554.62 296.31 L1555.83 291.02 L1557.05 285.58 L1558.27 280.09 L1559.47 274.64 L1560.65 269.31 L1561.80 264.20 L1562.79 259.76 L1563.75 255.43 L1564.68 251.16 L1565.61 246.93 L1566.54 242.73 L1567.49 238.53 L1568.47 234.29 L1569.50 230.00 L1570.63 225.45 L1571.81 220.80 L1573.04 216.09 L1574.28 211.38 L1575.52 206.74 L1576.73 202.23 L1577.90 197.89 L1579.00 193.80 L1579.81 190.83 L1580.59 188.02 L1581.35 185.33 L1582.09 182.71 L1582.82 180.11 L1583.54 177.49 L1584.27 174.80 L1585.00 172.00 L1585.84 168.67 L1586.72 165.13 L1587.61 161.47 L1588.49 157.80 L1589.33 154.21 L1590.11 150.82 L1590.81 147.71 L1591.40 145.00 L1591.68 143.64 L1591.90 142.41 L1592.10 141.27 L1592.28 140.20 L1592.45 139.16 L1592.64 138.11 L1592.85 137.04 L1593.10 135.90 L1593.43 134.57 L1593.79 133.22 L1594.18 131.84 L1594.58 130.46 L1595.00 129.07 L1595.41 127.69 L1595.81 126.33 L1596.20 125.00 L1596.55 123.78 L1596.89 122.56 L1597.23 121.36 L1597.57 120.16 L1597.90 118.98 L1598.24 117.81 L1598.57 116.65 L1598.90 115.50 L1599.21 114.45 L1599.52 113.41 L1599.83 112.39 L1600.14 111.37 L1600.45 110.36 L1600.74 109.36 L1601.03 108.38 L1601.30 107.40 L1601.53 106.52 L1601.76 105.66 L1601.97 104.81 L1602.18 103.96 L1602.38 103.12 L1602.59 102.28 L1602.79 101.44 L1603.00 100.60 L1603.21 99.76 L1603.42 98.93 L1603.63 98.09 L1603.83 97.26 L1604.04 96.42 L1604.26 95.59 L1604.48 94.75 L1604.70 93.90 L1604.94 92.92 L1605.19 91.80 L1605.45 90.62 L1605.72 89.46 L1605.98 88.42 L1606.23 87.57 L1606.47 87.00 L1606.70 86.80 L1606.94 87.13 L1607.16 88.00 L1607.37 89.27 L1607.56 90.79 L1607.76 92.42 L1607.96 94.03 L1608.17 95.47 L1608.40 96.60 L1608.56 97.20 L1608.72 97.83 L1608.88 98.46 L1609.05 99.04 L1609.22 99.55 L1609.38 99.95 L1609.55 100.21 L1609.70 100.30 L1609.89 100.11 L1610.08 99.60 L1610.26 98.85 L1610.43 97.92 L1610.60 96.89 L1610.77 95.83 L1610.94 94.81 L1611.10 93.90 L1611.25 92.91 L1611.37 91.79 L1611.48 90.61 L1611.58 89.44 L1611.71 88.36 L1611.88 87.45 L1612.10 86.77 L1612.40 86.40 L1612.58 86.34 L1612.78 86.33 L1613.00 86.36 L1613.23 86.45 L1613.46 86.57 L1613.68 86.72 L1613.90 86.90 L1614.10 87.10 L1614.48 87.69 L1614.82 88.51 L1615.13 89.51 L1615.42 90.63 L1615.69 91.82 L1615.96 93.01 L1616.22 94.16 L1616.50 95.20 L1616.75 96.08 L1617.00 96.94 L1617.24 97.80 L1617.47 98.64 L1617.71 99.48 L1617.96 100.32 L1618.22 101.16 L1618.50 102.00 L1618.80 102.86 L1619.11 103.73 L1619.43 104.60 L1619.76 105.47 L1620.11 106.33 L1620.46 107.17 L1620.83 108.00 L1621.20 108.80 L1621.56 109.59 L1621.95 110.47 L1622.34 111.37 L1622.75 112.24 L1623.15 113.01 L1623.55 113.64 L1623.93 114.06 L1624.30 114.20 L1624.63 114.06 L1624.95 113.70 L1625.27 113.17 L1625.58 112.50 L1625.87 111.74 L1626.16 110.94 L1626.44 110.15 L1626.70 109.40 L1627.01 108.47 L1627.29 107.50 L1627.55 106.49 L1627.79 105.43 L1628.02 104.32 L1628.24 103.15 L1628.47 101.91 L1628.70 100.60 L1629.03 98.24 L1629.30 95.46 L1629.54 92.43 L1629.79 89.30 L1630.06 86.23 L1630.40 83.38 L1630.84 80.92 L1631.40 79.00 L1631.72 78.24 L1632.06 77.52 L1632.41 76.85 L1632.79 76.26 L1633.18 75.75 L1633.58 75.34 L1633.98 75.05 L1634.40 74.90 L1634.77 74.91 L1635.15 75.04 L1635.55 75.27 L1635.95 75.57 L1636.35 75.91 L1636.75 76.26 L1637.13 76.60 L1637.50 76.90 L1637.83 77.15 L1638.14 77.40 L1638.44 77.65 L1638.74 77.91 L1639.03 78.17 L1639.34 78.44 L1639.66 78.71 L1640.00 79.00 L1640.46 79.38 L1640.93 79.76 L1641.42 80.15 L1641.93 80.55 L1642.45 80.97 L1642.98 81.42 L1643.53 81.89 L1644.10 82.40 L1644.94 83.27 L1645.85 84.35 L1646.81 85.54 L1647.78 86.75 L1648.76 87.88 L1649.72 88.82 L1650.64 89.50 L1651.50 89.80 L1652.05 89.77 L1652.58 89.60 L1653.10 89.30 L1653.60 88.92 L1654.10 88.48 L1654.60 88.01 L1655.10 87.54 L1655.60 87.10 L1656.19 86.58 L1656.76 85.98 L1657.34 85.35 L1657.91 84.70 L1658.49 84.06 L1659.07 83.44 L1659.68 82.88 L1660.30 82.40 L1660.87 82.02 L1661.44 81.67 L1662.02 81.34 L1662.61 81.05 L1663.22 80.79 L1663.83 80.58 L1664.46 80.41 L1665.10 80.30 L1665.83 80.29 L1666.60 80.40 L1667.39 80.60 L1668.19 80.83 L1668.99 81.06 L1669.76 81.25 L1670.51 81.34 L1671.20 81.30 L1671.75 81.15 L1672.28 80.93 L1672.78 80.65 L1673.26 80.33 L1673.74 79.99 L1674.21 79.64 L1674.70 79.31 L1675.20 79.00 L1675.74 78.67 L1676.29 78.29 L1676.85 77.90 L1677.40 77.52 L1677.96 77.17 L1678.52 76.88 L1679.06 76.68 L1679.60 76.60 L1680.08 76.62 L1680.55 76.72 L1681.02 76.89 L1681.49 77.10 L1681.95 77.36 L1682.41 77.66 L1682.86 77.97 L1683.30 78.30 L1683.84 78.74 L1684.38 79.24 L1684.90 79.78 L1685.42 80.37 L1685.93 81.00 L1686.43 81.65 L1686.92 82.32 L1687.40 83.00 L1687.94 83.85 L1688.46 84.77 L1688.96 85.75 L1689.46 86.75 L1689.95 87.75 L1690.45 88.72 L1690.96 89.65 L1691.50 90.50 L1691.97 91.16 L1692.44 91.79 L1692.92 92.39 L1693.41 92.96 L1693.90 93.53 L1694.42 94.08 L1694.95 94.64 L1695.50 95.20 L1696.13 95.87 L1696.80 96.60 L1697.49 97.35 L1698.19 98.09 L1698.91 98.77 L1699.62 99.34 L1700.32 99.76 L1701.00 100.00 L1701.50 100.04 L1702.00 99.98 L1702.49 99.83 L1702.98 99.62 L1703.47 99.37 L1703.97 99.11 L1704.48 98.84 L1705.00 98.60 L1705.64 98.29 L1706.30 97.91 L1706.96 97.48 L1707.64 97.06 L1708.32 96.65 L1709.01 96.31 L1709.71 96.04 L1710.40 95.90 L1711.07 95.87 L1711.74 95.93 L1712.42 96.06 L1713.10 96.25 L1713.79 96.48 L1714.48 96.74 L1715.19 97.02 L1715.90 97.30 L1716.80 97.65 L1717.74 98.04 L1718.70 98.46 L1719.67 98.92 L1720.63 99.43 L1721.56 99.99 L1722.46 100.61 L1723.30 101.30 L1724.18 102.20 L1724.99 103.23 L1725.76 104.35 L1726.49 105.54 L1727.21 106.74 L1727.92 107.93 L1728.65 109.06 L1729.40 110.10 L1730.06 110.95 L1730.71 111.79 L1731.35 112.61 L1731.99 113.41 L1732.65 114.17 L1733.33 114.89 L1734.04 115.57 L1734.80 116.20 L1735.57 116.75 L1736.38 117.26 L1737.21 117.72 L1738.07 118.14 L1738.94 118.54 L1739.82 118.91 L1740.71 119.26 L1741.60 119.60 L1742.51 119.96 L1743.45 120.33 L1744.42 120.70 L1745.38 121.04 L1746.34 121.32 L1747.27 121.53 L1748.16 121.63 L1749.00 121.60 L1749.65 121.45 L1750.26 121.20 L1750.83 120.86 L1751.39 120.47 L1751.95 120.06 L1752.52 119.64 L1753.14 119.24 L1753.80 118.90 L1754.71 118.52 L1755.71 118.15 L1756.76 117.78 L1757.83 117.43 L1758.91 117.10 L1759.96 116.78 L1760.97 116.48 L1761.90 116.20 L1762.55 116.01 L1763.16 115.85 L1763.75 115.71 L1764.32 115.58 L1764.89 115.44 L1765.47 115.28 L1766.07 115.11 L1766.70 114.90 L1767.55 114.55 L1768.42 114.10 L1769.32 113.59 L1770.24 113.07 L1771.18 112.58 L1772.14 112.16 L1773.11 111.85 L1774.10 111.70 L1775.22 111.73 L1776.39 111.93 L1777.59 112.27 L1778.81 112.69 L1780.03 113.16 L1781.22 113.62 L1782.39 114.05 L1783.50 114.40 L1784.40 114.62 L1785.27 114.80 L1786.13 114.95 L1786.97 115.10 L1787.80 115.27 L1788.63 115.48 L1789.46 115.75 L1790.30 116.10 L1791.32 116.64 L1792.34 117.29 L1793.36 118.03 L1794.38 118.82 L1795.40 119.64 L1796.41 120.44 L1797.41 121.21 L1798.40 121.90 L1799.27 122.46 L1800.13 122.98 L1800.99 123.49 L1801.83 123.98 L1802.68 124.47 L1803.52 124.96 L1804.36 125.47 L1805.20 126.00 L1806.05 126.56 L1806.89 127.14 L1807.72 127.73 L1808.55 128.32 L1809.39 128.92 L1810.24 129.52 L1811.11 130.11 L1812.00 130.70 L1813.01 131.34 L1814.05 131.98 L1815.11 132.62 L1816.18 133.25 L1817.26 133.89 L1818.35 134.53 L1819.43 135.16 L1820.50 135.80" fill="none" stroke="#ff0000" stroke-width="2.7" stroke-linejoin="round" stroke-linecap="round"/>
<path d="M1464.30 490.00 L1465.20 470.00 L1466.20 452.00 L1466.80 449.00 L1467.60 450.50 L1468.50 451.50 L1469.30 470.00 L1469.80 489.00 L1470.50 489.00 L1471.80 450.00 L1473.00 420.00 L1473.80 411.00 L1474.80 413.50 L1476.00 416.00 L1477.20 418.00 L1478.20 421.00 L1478.00 450.00 L1477.80 489.00 L1478.80 489.00 L1481.00 450.00 L1483.50 400.00 L1485.00 373.80 L1486.20 377.00 L1487.70 380.00 L1489.00 383.00 L1490.60 386.00 L1490.80 440.00 L1490.80 490.00 L1491.20 490.00 L1493.50 445.00 L1496.20 400.00 L1498.10 359.40" fill="none" stroke="#0000ff" stroke-width="3.4" stroke-linejoin="round" stroke-linecap="round"/>
<path d="M1498.10 359.40 L1498.40 353.92 L1498.69 348.45 L1498.97 342.97 L1499.25 337.50 L1499.55 332.02 L1499.86 326.55 L1500.21 321.07 L1500.60 315.60 L1501.04 310.12 L1501.52 304.62 L1502.03 299.13 L1502.56 293.63 L1503.11 288.15 L1503.65 282.68 L1504.19 277.23 L1504.70 271.80 L1505.19 266.53 L1505.69 261.28 L1506.18 256.06 L1506.67 250.85 L1507.15 245.64 L1507.62 240.44 L1508.07 235.22 L1508.50 230.00 L1508.91 224.76 L1509.29 219.53 L1509.66 214.30 L1510.02 209.07 L1510.36 203.83 L1510.71 198.57 L1511.05 193.30 L1511.40 188.00 L1511.75 182.45 L1512.10 176.74 L1512.44 170.95 L1512.77 165.18 L1513.11 159.51 L1513.46 154.03 L1513.82 148.83 L1514.20 144.00 L1514.49 140.80 L1514.81 137.84 L1515.13 135.04 L1515.46 132.33 L1515.77 129.65 L1516.08 126.91 L1516.36 124.05 L1516.60 121.00 L1516.78 116.64 L1516.81 111.58 L1516.77 106.16 L1516.72 100.75 L1516.74 95.70 L1516.89 91.39 L1517.26 88.17 L1517.90 86.40 L1518.09 86.21 L1518.30 86.07 L1518.52 85.97 L1518.75 85.91 L1518.97 85.90 L1519.19 85.92 L1519.41 85.99 L1519.60 86.10 L1520.08 87.00 L1520.46 88.74 L1520.76 91.03 L1521.01 93.57 L1521.24 96.07 L1521.47 98.22 L1521.71 99.73 L1522.00 100.30 L1522.31 99.70 L1522.62 98.11 L1522.92 95.86 L1523.24 93.27 L1523.56 90.68 L1523.91 88.40 L1524.29 86.77 L1524.70 86.10 L1524.95 86.15 L1525.21 86.37 L1525.48 86.74 L1525.76 87.21 L1526.03 87.79 L1526.30 88.42 L1526.56 89.10 L1526.80 89.80 L1527.28 92.08 L1527.68 95.36 L1528.01 99.23 L1528.29 103.30 L1528.56 107.16 L1528.84 110.41 L1529.14 112.66 L1529.50 113.50 L1529.98 111.89 L1530.45 107.62 L1530.92 101.58 L1531.42 94.64 L1531.98 87.65 L1532.61 81.50 L1533.35 77.06 L1534.20 75.20 L1534.52 75.21 L1534.85 75.41 L1535.21 75.75 L1535.57 76.20 L1535.93 76.72 L1536.27 77.27 L1536.60 77.81 L1536.90 78.30 L1537.20 78.82 L1537.48 79.37 L1537.75 79.94 L1537.99 80.53 L1538.23 81.14 L1538.45 81.75 L1538.68 82.37 L1538.90 83.00 L1539.12 83.74 L1539.31 84.58 L1539.49 85.46 L1539.66 86.33 L1539.84 87.15 L1540.05 87.87 L1540.30 88.43 L1540.60 88.80 L1540.79 88.92 L1540.99 89.00 L1541.21 89.05 L1541.43 89.06 L1541.65 89.04 L1541.88 88.99 L1542.09 88.91 L1542.30 88.80 L1542.67 88.42 L1543.00 87.81 L1543.31 87.05 L1543.61 86.18 L1543.92 85.28 L1544.24 84.40 L1544.60 83.62 L1545.00 83.00 L1545.34 82.60 L1545.70 82.23 L1546.07 81.88 L1546.46 81.56 L1546.86 81.28 L1547.27 81.04 L1547.68 80.85 L1548.10 80.70 L1548.50 80.64 L1548.92 80.68 L1549.35 80.77 L1549.79 80.89 L1550.22 81.00 L1550.66 81.08 L1551.08 81.09 L1551.50 81.00 L1552.02 80.68 L1552.54 80.17 L1553.05 79.53 L1553.55 78.83 L1554.05 78.15 L1554.53 77.55 L1555.02 77.11 L1555.50 76.90 L1555.85 76.88 L1556.20 76.94 L1556.55 77.06 L1556.90 77.23 L1557.24 77.45 L1557.58 77.71 L1557.90 78.00 L1558.20 78.30 L1558.63 78.83 L1559.02 79.48 L1559.39 80.21 L1559.74 81.02 L1560.08 81.86 L1560.39 82.73 L1560.70 83.58 L1561.00 84.40 L1561.29 85.24 L1561.54 86.11 L1561.77 87.00 L1561.99 87.90 L1562.21 88.78 L1562.45 89.63 L1562.71 90.45 L1563.00 91.20 L1563.26 91.76 L1563.54 92.29 L1563.83 92.79 L1564.13 93.28 L1564.44 93.75 L1564.76 94.22 L1565.08 94.70 L1565.40 95.20 L1565.75 95.80 L1566.11 96.48 L1566.48 97.19 L1566.85 97.89 L1567.23 98.53 L1567.62 99.06 L1568.01 99.43 L1568.40 99.60 L1568.72 99.56 L1569.04 99.37 L1569.37 99.07 L1569.69 98.71 L1570.03 98.31 L1570.37 97.91 L1570.73 97.57 L1571.10 97.30 L1571.49 97.08 L1571.91 96.86 L1572.33 96.66 L1572.77 96.47 L1573.21 96.33 L1573.65 96.22 L1574.08 96.18 L1574.50 96.20 L1574.94 96.32 L1575.37 96.53 L1575.80 96.80 L1576.23 97.13 L1576.65 97.50 L1577.07 97.88 L1577.48 98.25 L1577.90 98.60 L1578.34 98.95 L1578.78 99.31 L1579.21 99.68 L1579.65 100.05 L1580.08 100.44 L1580.50 100.84 L1580.90 101.26 L1581.30 101.70 L1581.71 102.18 L1582.12 102.68 L1582.51 103.18 L1582.89 103.71 L1583.26 104.26 L1583.62 104.83 L1583.97 105.45 L1584.30 106.10 L1584.70 107.07 L1585.05 108.17 L1585.37 109.35 L1585.67 110.57 L1585.97 111.79 L1586.28 112.94 L1586.62 114.00 L1587.00 114.90 L1587.26 115.42 L1587.51 115.88 L1587.77 116.32 L1588.03 116.72 L1588.32 117.10 L1588.64 117.47 L1588.99 117.83 L1589.40 118.20 L1590.07 118.74 L1590.86 119.33 L1591.75 119.93 L1592.68 120.49 L1593.63 120.98 L1594.56 121.36 L1595.43 121.58 L1596.20 121.60 L1596.77 121.44 L1597.29 121.13 L1597.78 120.71 L1598.25 120.21 L1598.72 119.67 L1599.19 119.13 L1599.68 118.63 L1600.20 118.20 L1600.77 117.83 L1601.37 117.48 L1601.98 117.14 L1602.60 116.82 L1603.23 116.50 L1603.84 116.18 L1604.43 115.85 L1605.00 115.50 L1605.49 115.14 L1605.95 114.74 L1606.40 114.31 L1606.83 113.89 L1607.27 113.50 L1607.73 113.17 L1608.20 112.93 L1608.70 112.80 L1609.29 112.80 L1609.93 112.93 L1610.59 113.16 L1611.27 113.46 L1611.94 113.81 L1612.59 114.18 L1613.22 114.55 L1613.80 114.90 L1614.28 115.19 L1614.73 115.47 L1615.17 115.77 L1615.59 116.08 L1616.00 116.41 L1616.40 116.77 L1616.80 117.16 L1617.20 117.60 L1617.73 118.27 L1618.23 119.04 L1618.71 119.88 L1619.19 120.77 L1619.67 121.68 L1620.16 122.58 L1620.67 123.47 L1621.20 124.30 L1621.76 125.10 L1622.33 125.89 L1622.92 126.67 L1623.52 127.44 L1624.13 128.20 L1624.75 128.95 L1625.37 129.68 L1626.00 130.40 L1626.62 131.07 L1627.24 131.73 L1627.88 132.37 L1628.52 133.00 L1629.17 133.62 L1629.81 134.24 L1630.46 134.87 L1631.10 135.50" fill="none" stroke="#0000ff" stroke-width="2.7" stroke-linejoin="round" stroke-linecap="round"/>
<g fill="none" stroke="#000" stroke-width="4.6" stroke-linejoin="miter" stroke-linecap="butt">
<path d="M829.7 885V1168.9H1236"/>
<path d="M829.7 1072L1086.8 942.8V1001" stroke-linejoin="round"/>
<path d="M1086.8 990V1003.3H1203.7"/>
</g>
<path d="M1181.7 828.6V928.2H1232.1V828.6" fill="none" stroke="#000" stroke-width="4.6" stroke-linejoin="round" stroke-linecap="round"/>
<path d="M829.7 873L822.6 886.7H837Z" fill="#000"/>
<path d="M1248.9 1168.6L1234.6 1161.7V1175.6Z" fill="#000"/>
<g fill="none" stroke="#000" stroke-width="3.4">
<circle cx="1206.5" cy="720.2" r="7.6"/>
<circle cx="1206.6" cy="971.4" r="7.9"/>
<path d="M1206.6 929V963.3" stroke-width="4"/>
<path d="M1206.3 802V861" stroke-width="3.2"/>
<rect x="1189.9" y="862.6" width="32.8" height="8.2" rx="2.5"/>
</g>
<path d="M1205.6 728.5L1187.4 736.5L1226.6 744.7L1187.4 753.8L1226.6 762L1187.4 770.8L1226.6 779.4L1187.4 788.5L1226.6 797.6L1206.8 802.5" fill="none" stroke="#000" stroke-width="4.6" stroke-linejoin="round" stroke-linecap="round"/>
</svg></body></html>
